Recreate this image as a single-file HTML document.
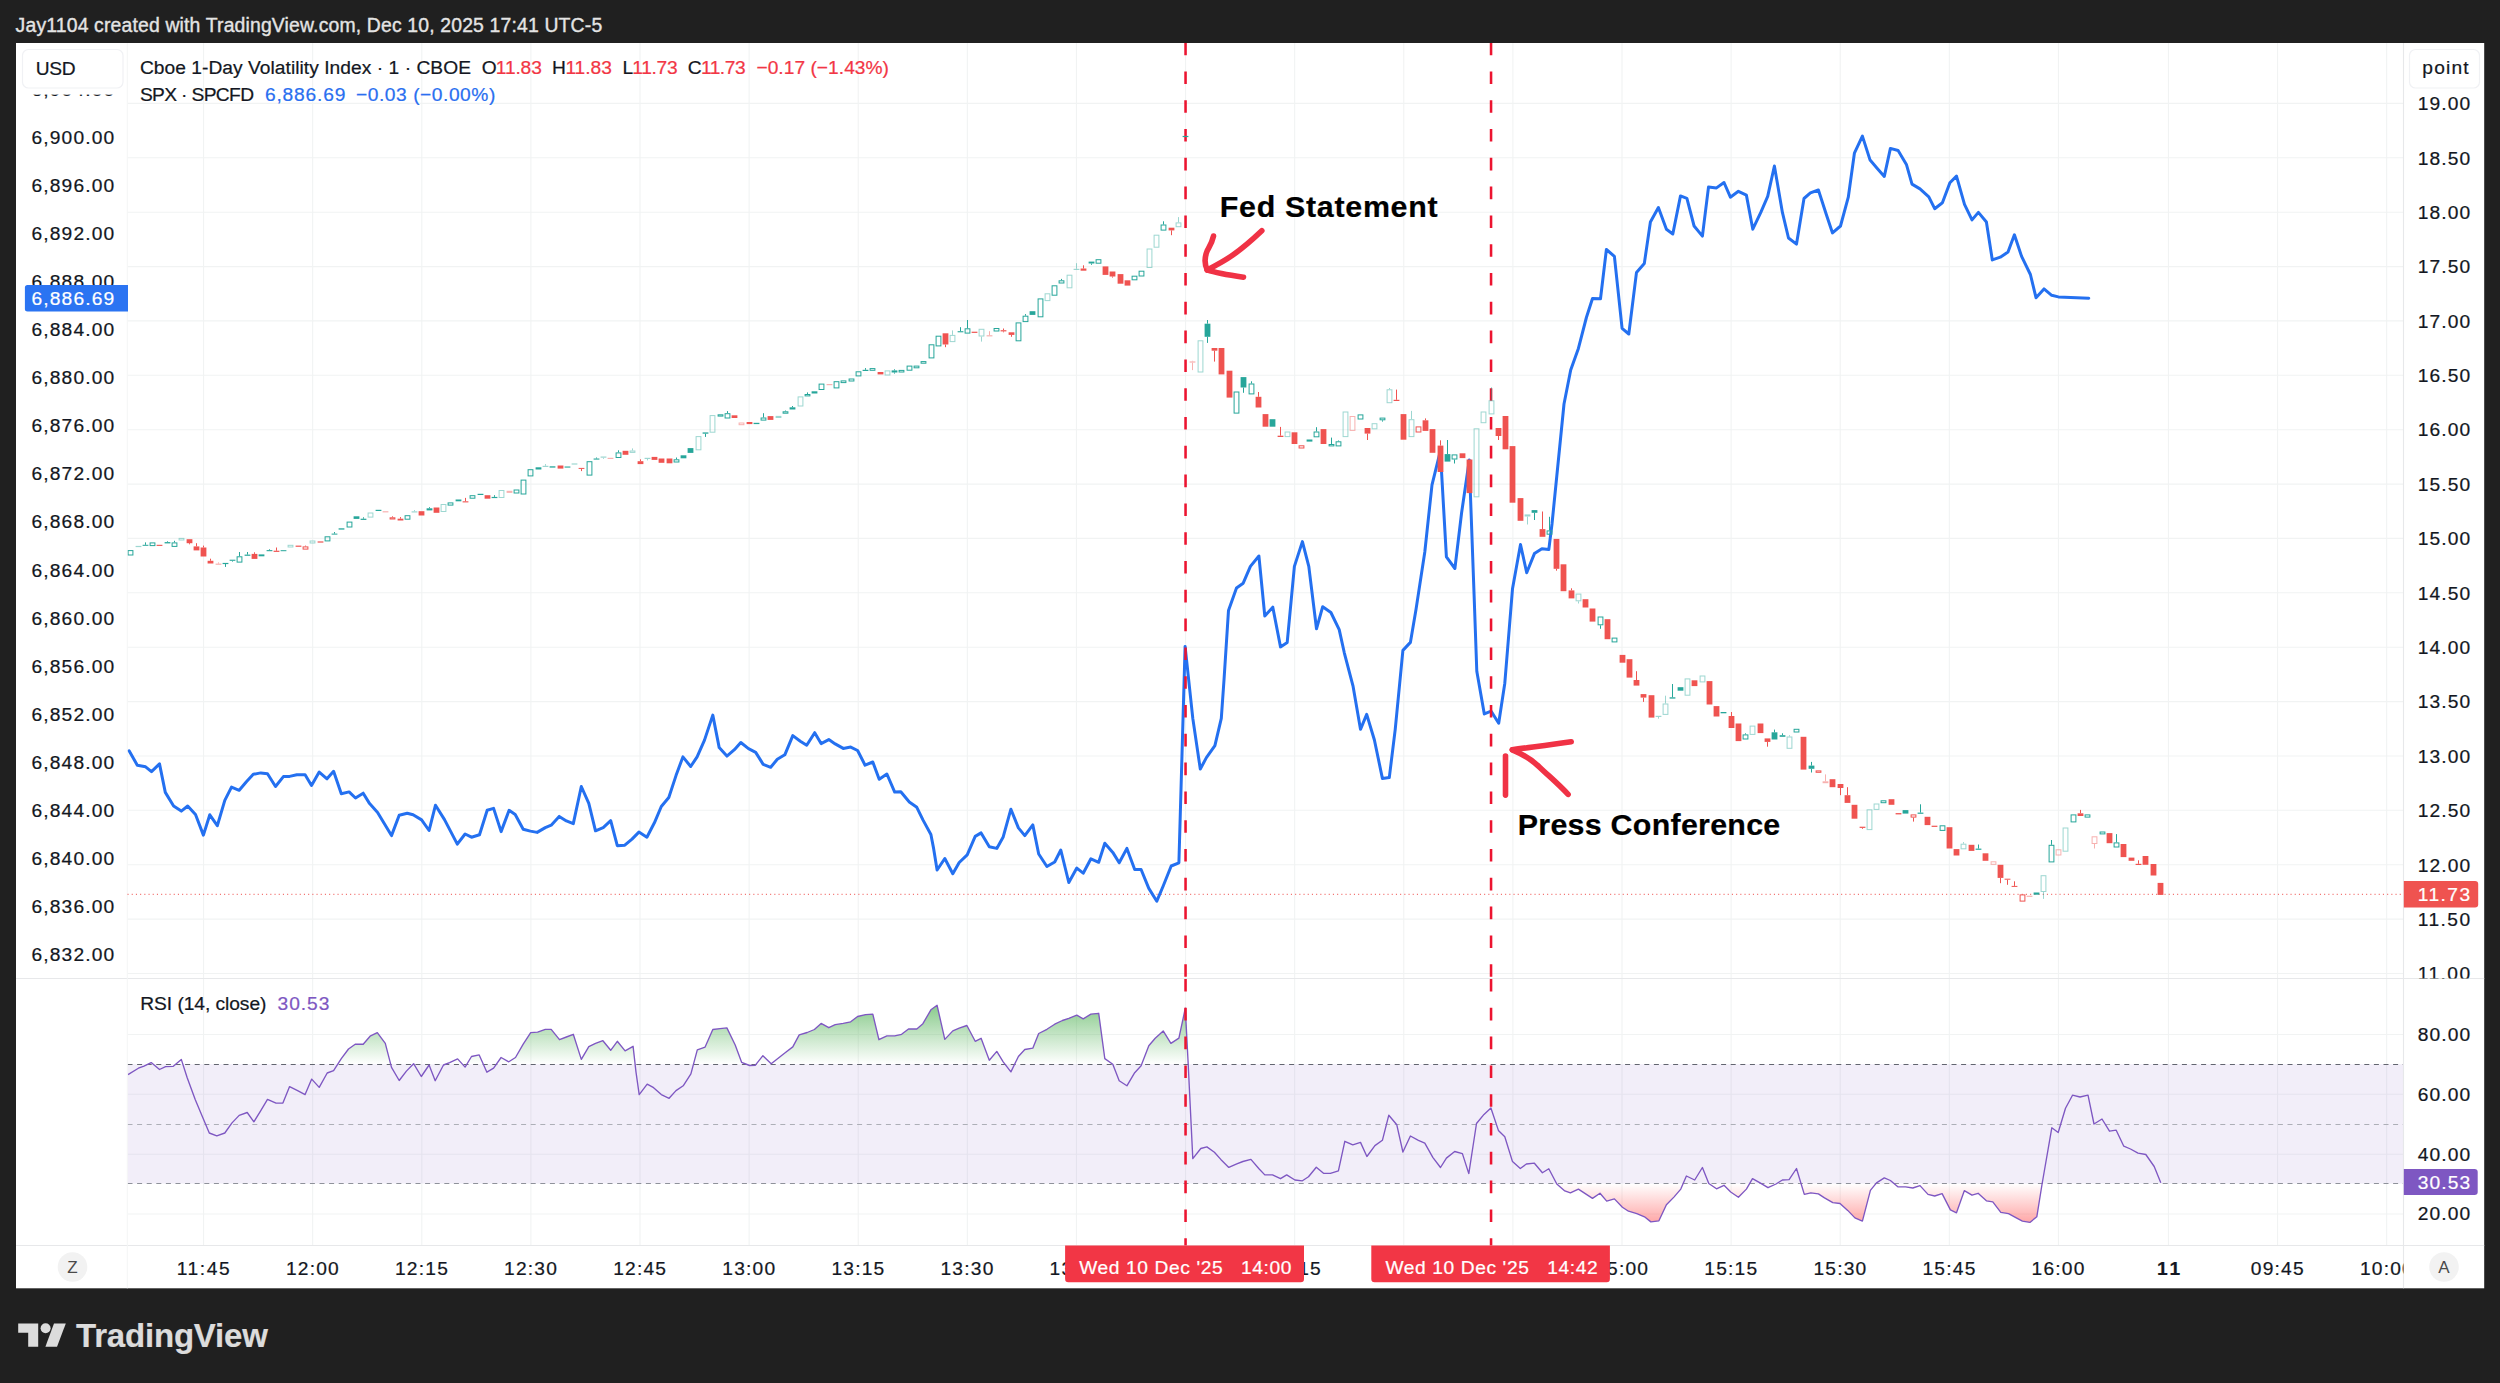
<!DOCTYPE html>
<html lang="en"><head><meta charset="utf-8"><title>TradingView chart snapshot</title>
<style>html,body{margin:0;padding:0;background:#202020;}body{width:2500px;height:1383px;position:relative;overflow:hidden;font-family:"Liberation Sans",Arial,sans-serif;}</style>
</head><body>
<svg width="2500" height="1383" viewBox="0 0 2500 1383" style="position:absolute;left:0;top:0;display:block" font-family="Liberation Sans, Arial, sans-serif">
<defs>
<linearGradient id="gG" gradientUnits="userSpaceOnUse" x1="0" y1="974.6" x2="0" y2="1064.2"><stop offset="0" stop-color="#4CAF50" stop-opacity="1"/><stop offset="1" stop-color="#4CAF50" stop-opacity="0"/></linearGradient>
<linearGradient id="gR" gradientUnits="userSpaceOnUse" x1="0" y1="1183.6" x2="0" y2="1260"><stop offset="0" stop-color="#FF5252" stop-opacity="0"/><stop offset="1" stop-color="#FF5252" stop-opacity="1"/></linearGradient>
<clipPath id="cpTop"><rect x="127.5" y="900" width="2276.0" height="164.2"/></clipPath>
<clipPath id="cpBot"><rect x="127.5" y="1183.6" width="2276.0" height="80"/></clipPath>
<clipPath id="cpPlot"><rect x="127.5" y="43" width="2276.0" height="935.5"/></clipPath>
<clipPath id="cpTime"><rect x="127.5" y="1245.5" width="2276.0" height="42.799999999999955"/></clipPath>
<clipPath id="cpRAx"><rect x="2403.5" y="43" width="80.69999999999982" height="935.5"/></clipPath>
</defs>
<rect x="16" y="43" width="2468.2" height="1245.3" fill="#ffffff"/>
<path d="M203.57 43V1245.5M312.68 43V1245.5M421.79 43V1245.5M530.90 43V1245.5M640.01 43V1245.5M749.12 43V1245.5M858.23 43V1245.5M967.34 43V1245.5M1076.45 43V1245.5M1185.56 43V1245.5M1294.67 43V1245.5M1403.78 43V1245.5M1512.89 43V1245.5M1622.00 43V1245.5M1731.11 43V1245.5M1840.22 43V1245.5M1949.33 43V1245.5M2058.44 43V1245.5M2168.45 43V1245.5M2277.56 43V1245.5M2386.67 43V1245.5M127.5 103.4H2403.5M127.5 157.8H2403.5M127.5 212.2H2403.5M127.5 266.6H2403.5M127.5 320.9H2403.5M127.5 375.3H2403.5M127.5 429.7H2403.5M127.5 484.1H2403.5M127.5 538.4H2403.5M127.5 592.8H2403.5M127.5 647.2H2403.5M127.5 701.6H2403.5M127.5 756.0H2403.5M127.5 810.3H2403.5M127.5 864.7H2403.5M127.5 919.1H2403.5M127.5 973.5H2403.5M127.5 1034.5H2403.5M127.5 1094.3H2403.5M127.5 1154.2H2403.5M127.5 1214H2403.5" stroke="#f1f3f3" stroke-width="1.1" fill="none"/>
<rect x="127.5" y="1064.2" width="2276.0" height="119.4" fill="#7E57C2" fill-opacity="0.1"/>
<polygon points="128.0,1064.2 128.0,1074.6 138.4,1068.2 144.0,1066.1 151.2,1062.6 159.5,1069.5 165.6,1066.6 173.3,1066.3 181.3,1059.4 187.2,1077.8 195.2,1099.4 201.9,1115.4 209.3,1133.0 216.8,1135.9 224.8,1133.0 232.0,1122.9 239.2,1115.4 247.2,1112.5 253.9,1121.8 260.8,1110.6 267.5,1099.4 276.0,1103.1 282.9,1103.1 289.6,1086.6 297.6,1090.6 305.1,1094.6 311.7,1079.1 319.2,1087.4 327.2,1073.0 333.6,1070.6 341.3,1058.6 348.5,1049.0 355.2,1044.2 363.2,1044.2 370.1,1036.2 377.3,1032.7 385.3,1043.4 391.5,1067.4 399.2,1080.5 406.4,1071.1 413.6,1063.7 421.3,1076.5 429.1,1065.0 435.2,1080.7 443.5,1065.0 449.6,1062.6 457.6,1058.9 465.1,1067.1 471.5,1056.5 479.2,1054.9 486.9,1072.2 493.6,1068.2 501.1,1057.5 508.8,1061.8 515.5,1057.5 523.2,1044.2 530.7,1032.7 537.6,1032.2 545.3,1029.3 551.2,1029.3 559.5,1039.7 566.4,1037.0 573.3,1034.3 581.3,1059.4 588.8,1046.6 595.5,1043.4 602.9,1040.7 610.7,1050.3 617.3,1041.3 625.1,1050.9 633.1,1046.3 636.0,1072.2 639.2,1094.6 647.2,1084.2 653.6,1087.7 661.3,1094.6 669.1,1098.3 676.0,1090.6 683.2,1085.8 690.9,1073.8 697.3,1049.8 705.1,1047.1 712.8,1029.5 720.0,1028.7 726.9,1027.9 735.2,1045.0 741.6,1062.3 749.6,1065.5 755.2,1065.3 762.9,1055.7 771.2,1063.7 784.8,1053.0 792.8,1046.9 799.2,1034.9 807.2,1032.5 814.4,1029.5 821.1,1023.4 828.8,1027.7 835.2,1024.7 843.2,1023.4 850.7,1021.8 857.6,1016.5 865.6,1014.6 872.8,1014.1 878.9,1039.7 886.9,1035.9 894.7,1035.9 901.6,1034.3 908.5,1029.0 916.8,1029.0 922.9,1023.7 930.9,1009.8 937.1,1005.3 944.8,1039.4 952.8,1030.9 959.2,1028.2 966.9,1025.5 975.2,1041.3 981.1,1038.3 989.3,1060.2 996.8,1051.4 1003.2,1061.8 1010.9,1071.9 1018.4,1056.5 1024.8,1049.5 1032.8,1048.2 1038.7,1033.5 1046.9,1029.3 1054.7,1024.2 1062.4,1020.5 1068.8,1018.3 1076.8,1015.1 1083.2,1018.9 1090.9,1014.1 1098.7,1013.3 1104.8,1058.6 1112.8,1064.2 1119.2,1080.7 1126.9,1085.8 1134.7,1072.7 1141.1,1065.8 1148.8,1045.8 1155.2,1038.3 1163.2,1030.9 1170.9,1043.4 1178.9,1038.1 1185.3,1008.2 1188.0,1060.2 1192.8,1158.6 1200.8,1148.5 1206.9,1146.9 1214.4,1152.2 1220.8,1159.4 1228.8,1167.4 1236.8,1163.9 1242.9,1161.5 1250.9,1159.4 1259.2,1169.0 1264.8,1174.9 1272.5,1174.9 1280.5,1178.7 1286.7,1174.9 1294.9,1180.0 1302.4,1180.8 1308.5,1176.8 1316.3,1167.2 1323.5,1173.3 1330.4,1173.3 1338.4,1170.9 1344.8,1141.3 1352.8,1144.8 1360.5,1142.4 1366.9,1156.5 1374.9,1145.6 1382.4,1140.3 1388.8,1115.2 1396.8,1124.8 1402.9,1152.0 1410.4,1136.0 1418.4,1140.3 1424.8,1143.2 1432.8,1157.3 1440.5,1167.5 1446.4,1158.1 1454.7,1151.5 1462.4,1153.6 1468.8,1173.6 1476.5,1123.5 1484.0,1114.4 1490.9,1108.0 1498.4,1130.4 1504.8,1136.8 1512.5,1161.6 1520.3,1168.5 1526.4,1164.0 1534.4,1163.2 1542.4,1172.8 1548.8,1168.8 1556.8,1184.0 1564.8,1190.9 1570.4,1192.8 1578.4,1189.1 1586.4,1194.4 1592.5,1198.4 1600.0,1193.3 1606.7,1201.1 1614.4,1198.9 1622.4,1207.2 1628.5,1211.2 1636.8,1213.6 1644.5,1216.8 1650.9,1221.9 1658.9,1220.8 1666.4,1204.8 1673.9,1197.1 1680.8,1189.1 1686.4,1176.0 1694.7,1180.0 1702.4,1167.5 1708.8,1183.5 1716.5,1188.8 1724.0,1185.3 1730.7,1192.0 1738.4,1197.3 1746.4,1189.1 1752.5,1178.7 1760.5,1183.2 1768.0,1187.7 1776.0,1184.0 1782.4,1180.0 1789.1,1179.7 1796.5,1168.5 1804.3,1194.4 1810.9,1192.8 1818.4,1193.9 1824.5,1197.9 1832.8,1202.7 1840.0,1203.5 1847.7,1210.4 1854.9,1217.9 1862.4,1221.1 1870.4,1190.4 1876.5,1182.9 1884.3,1177.9 1890.4,1180.5 1898.1,1186.9 1905.6,1186.9 1912.8,1188.0 1920.0,1185.6 1928.0,1194.4 1934.7,1196.0 1942.1,1193.6 1950.4,1209.9 1956.5,1212.8 1964.3,1190.7 1972.0,1195.2 1978.1,1193.3 1986.4,1200.8 1992.8,1201.9 2000.8,1212.3 2008.5,1213.6 2014.9,1217.1 2022.4,1221.1 2029.9,1222.4 2036.8,1216.8 2042.0,1184.5 2051.8,1127.8 2058.2,1132.5 2065.5,1108.2 2072.5,1095.2 2080.0,1097.0 2088.0,1095.2 2094.0,1124.0 2102.0,1119.0 2109.5,1131.2 2116.2,1130.2 2123.8,1146.2 2130.5,1149.0 2138.0,1153.2 2145.8,1154.5 2154.2,1166.5 2160.8,1182.8 2160.8,1064.2" fill="url(#gG)" clip-path="url(#cpTop)"/>
<polygon points="128.0,1183.6 128.0,1074.6 138.4,1068.2 144.0,1066.1 151.2,1062.6 159.5,1069.5 165.6,1066.6 173.3,1066.3 181.3,1059.4 187.2,1077.8 195.2,1099.4 201.9,1115.4 209.3,1133.0 216.8,1135.9 224.8,1133.0 232.0,1122.9 239.2,1115.4 247.2,1112.5 253.9,1121.8 260.8,1110.6 267.5,1099.4 276.0,1103.1 282.9,1103.1 289.6,1086.6 297.6,1090.6 305.1,1094.6 311.7,1079.1 319.2,1087.4 327.2,1073.0 333.6,1070.6 341.3,1058.6 348.5,1049.0 355.2,1044.2 363.2,1044.2 370.1,1036.2 377.3,1032.7 385.3,1043.4 391.5,1067.4 399.2,1080.5 406.4,1071.1 413.6,1063.7 421.3,1076.5 429.1,1065.0 435.2,1080.7 443.5,1065.0 449.6,1062.6 457.6,1058.9 465.1,1067.1 471.5,1056.5 479.2,1054.9 486.9,1072.2 493.6,1068.2 501.1,1057.5 508.8,1061.8 515.5,1057.5 523.2,1044.2 530.7,1032.7 537.6,1032.2 545.3,1029.3 551.2,1029.3 559.5,1039.7 566.4,1037.0 573.3,1034.3 581.3,1059.4 588.8,1046.6 595.5,1043.4 602.9,1040.7 610.7,1050.3 617.3,1041.3 625.1,1050.9 633.1,1046.3 636.0,1072.2 639.2,1094.6 647.2,1084.2 653.6,1087.7 661.3,1094.6 669.1,1098.3 676.0,1090.6 683.2,1085.8 690.9,1073.8 697.3,1049.8 705.1,1047.1 712.8,1029.5 720.0,1028.7 726.9,1027.9 735.2,1045.0 741.6,1062.3 749.6,1065.5 755.2,1065.3 762.9,1055.7 771.2,1063.7 784.8,1053.0 792.8,1046.9 799.2,1034.9 807.2,1032.5 814.4,1029.5 821.1,1023.4 828.8,1027.7 835.2,1024.7 843.2,1023.4 850.7,1021.8 857.6,1016.5 865.6,1014.6 872.8,1014.1 878.9,1039.7 886.9,1035.9 894.7,1035.9 901.6,1034.3 908.5,1029.0 916.8,1029.0 922.9,1023.7 930.9,1009.8 937.1,1005.3 944.8,1039.4 952.8,1030.9 959.2,1028.2 966.9,1025.5 975.2,1041.3 981.1,1038.3 989.3,1060.2 996.8,1051.4 1003.2,1061.8 1010.9,1071.9 1018.4,1056.5 1024.8,1049.5 1032.8,1048.2 1038.7,1033.5 1046.9,1029.3 1054.7,1024.2 1062.4,1020.5 1068.8,1018.3 1076.8,1015.1 1083.2,1018.9 1090.9,1014.1 1098.7,1013.3 1104.8,1058.6 1112.8,1064.2 1119.2,1080.7 1126.9,1085.8 1134.7,1072.7 1141.1,1065.8 1148.8,1045.8 1155.2,1038.3 1163.2,1030.9 1170.9,1043.4 1178.9,1038.1 1185.3,1008.2 1188.0,1060.2 1192.8,1158.6 1200.8,1148.5 1206.9,1146.9 1214.4,1152.2 1220.8,1159.4 1228.8,1167.4 1236.8,1163.9 1242.9,1161.5 1250.9,1159.4 1259.2,1169.0 1264.8,1174.9 1272.5,1174.9 1280.5,1178.7 1286.7,1174.9 1294.9,1180.0 1302.4,1180.8 1308.5,1176.8 1316.3,1167.2 1323.5,1173.3 1330.4,1173.3 1338.4,1170.9 1344.8,1141.3 1352.8,1144.8 1360.5,1142.4 1366.9,1156.5 1374.9,1145.6 1382.4,1140.3 1388.8,1115.2 1396.8,1124.8 1402.9,1152.0 1410.4,1136.0 1418.4,1140.3 1424.8,1143.2 1432.8,1157.3 1440.5,1167.5 1446.4,1158.1 1454.7,1151.5 1462.4,1153.6 1468.8,1173.6 1476.5,1123.5 1484.0,1114.4 1490.9,1108.0 1498.4,1130.4 1504.8,1136.8 1512.5,1161.6 1520.3,1168.5 1526.4,1164.0 1534.4,1163.2 1542.4,1172.8 1548.8,1168.8 1556.8,1184.0 1564.8,1190.9 1570.4,1192.8 1578.4,1189.1 1586.4,1194.4 1592.5,1198.4 1600.0,1193.3 1606.7,1201.1 1614.4,1198.9 1622.4,1207.2 1628.5,1211.2 1636.8,1213.6 1644.5,1216.8 1650.9,1221.9 1658.9,1220.8 1666.4,1204.8 1673.9,1197.1 1680.8,1189.1 1686.4,1176.0 1694.7,1180.0 1702.4,1167.5 1708.8,1183.5 1716.5,1188.8 1724.0,1185.3 1730.7,1192.0 1738.4,1197.3 1746.4,1189.1 1752.5,1178.7 1760.5,1183.2 1768.0,1187.7 1776.0,1184.0 1782.4,1180.0 1789.1,1179.7 1796.5,1168.5 1804.3,1194.4 1810.9,1192.8 1818.4,1193.9 1824.5,1197.9 1832.8,1202.7 1840.0,1203.5 1847.7,1210.4 1854.9,1217.9 1862.4,1221.1 1870.4,1190.4 1876.5,1182.9 1884.3,1177.9 1890.4,1180.5 1898.1,1186.9 1905.6,1186.9 1912.8,1188.0 1920.0,1185.6 1928.0,1194.4 1934.7,1196.0 1942.1,1193.6 1950.4,1209.9 1956.5,1212.8 1964.3,1190.7 1972.0,1195.2 1978.1,1193.3 1986.4,1200.8 1992.8,1201.9 2000.8,1212.3 2008.5,1213.6 2014.9,1217.1 2022.4,1221.1 2029.9,1222.4 2036.8,1216.8 2042.0,1184.5 2051.8,1127.8 2058.2,1132.5 2065.5,1108.2 2072.5,1095.2 2080.0,1097.0 2088.0,1095.2 2094.0,1124.0 2102.0,1119.0 2109.5,1131.2 2116.2,1130.2 2123.8,1146.2 2130.5,1149.0 2138.0,1153.2 2145.8,1154.5 2154.2,1166.5 2160.8,1182.8 2160.8,1183.6" fill="url(#gR)" clip-path="url(#cpBot)"/>
<path d="M127.5 1064.5H2403.5" stroke="#62656f" stroke-width="1.05" stroke-dasharray="5 4.6" fill="none"/>
<path d="M127.5 1124.5H2403.5" stroke="#adafb7" stroke-width="1.0" stroke-dasharray="5 4.6" fill="none"/>
<path d="M127.5 1183.5H2403.5" stroke="#8f929b" stroke-width="1.05" stroke-dasharray="5 4.6" fill="none"/>
<polyline points="128.0,1074.6 138.4,1068.2 144.0,1066.1 151.2,1062.6 159.5,1069.5 165.6,1066.6 173.3,1066.3 181.3,1059.4 187.2,1077.8 195.2,1099.4 201.9,1115.4 209.3,1133.0 216.8,1135.9 224.8,1133.0 232.0,1122.9 239.2,1115.4 247.2,1112.5 253.9,1121.8 260.8,1110.6 267.5,1099.4 276.0,1103.1 282.9,1103.1 289.6,1086.6 297.6,1090.6 305.1,1094.6 311.7,1079.1 319.2,1087.4 327.2,1073.0 333.6,1070.6 341.3,1058.6 348.5,1049.0 355.2,1044.2 363.2,1044.2 370.1,1036.2 377.3,1032.7 385.3,1043.4 391.5,1067.4 399.2,1080.5 406.4,1071.1 413.6,1063.7 421.3,1076.5 429.1,1065.0 435.2,1080.7 443.5,1065.0 449.6,1062.6 457.6,1058.9 465.1,1067.1 471.5,1056.5 479.2,1054.9 486.9,1072.2 493.6,1068.2 501.1,1057.5 508.8,1061.8 515.5,1057.5 523.2,1044.2 530.7,1032.7 537.6,1032.2 545.3,1029.3 551.2,1029.3 559.5,1039.7 566.4,1037.0 573.3,1034.3 581.3,1059.4 588.8,1046.6 595.5,1043.4 602.9,1040.7 610.7,1050.3 617.3,1041.3 625.1,1050.9 633.1,1046.3 636.0,1072.2 639.2,1094.6 647.2,1084.2 653.6,1087.7 661.3,1094.6 669.1,1098.3 676.0,1090.6 683.2,1085.8 690.9,1073.8 697.3,1049.8 705.1,1047.1 712.8,1029.5 720.0,1028.7 726.9,1027.9 735.2,1045.0 741.6,1062.3 749.6,1065.5 755.2,1065.3 762.9,1055.7 771.2,1063.7 784.8,1053.0 792.8,1046.9 799.2,1034.9 807.2,1032.5 814.4,1029.5 821.1,1023.4 828.8,1027.7 835.2,1024.7 843.2,1023.4 850.7,1021.8 857.6,1016.5 865.6,1014.6 872.8,1014.1 878.9,1039.7 886.9,1035.9 894.7,1035.9 901.6,1034.3 908.5,1029.0 916.8,1029.0 922.9,1023.7 930.9,1009.8 937.1,1005.3 944.8,1039.4 952.8,1030.9 959.2,1028.2 966.9,1025.5 975.2,1041.3 981.1,1038.3 989.3,1060.2 996.8,1051.4 1003.2,1061.8 1010.9,1071.9 1018.4,1056.5 1024.8,1049.5 1032.8,1048.2 1038.7,1033.5 1046.9,1029.3 1054.7,1024.2 1062.4,1020.5 1068.8,1018.3 1076.8,1015.1 1083.2,1018.9 1090.9,1014.1 1098.7,1013.3 1104.8,1058.6 1112.8,1064.2 1119.2,1080.7 1126.9,1085.8 1134.7,1072.7 1141.1,1065.8 1148.8,1045.8 1155.2,1038.3 1163.2,1030.9 1170.9,1043.4 1178.9,1038.1 1185.3,1008.2 1188.0,1060.2 1192.8,1158.6 1200.8,1148.5 1206.9,1146.9 1214.4,1152.2 1220.8,1159.4 1228.8,1167.4 1236.8,1163.9 1242.9,1161.5 1250.9,1159.4 1259.2,1169.0 1264.8,1174.9 1272.5,1174.9 1280.5,1178.7 1286.7,1174.9 1294.9,1180.0 1302.4,1180.8 1308.5,1176.8 1316.3,1167.2 1323.5,1173.3 1330.4,1173.3 1338.4,1170.9 1344.8,1141.3 1352.8,1144.8 1360.5,1142.4 1366.9,1156.5 1374.9,1145.6 1382.4,1140.3 1388.8,1115.2 1396.8,1124.8 1402.9,1152.0 1410.4,1136.0 1418.4,1140.3 1424.8,1143.2 1432.8,1157.3 1440.5,1167.5 1446.4,1158.1 1454.7,1151.5 1462.4,1153.6 1468.8,1173.6 1476.5,1123.5 1484.0,1114.4 1490.9,1108.0 1498.4,1130.4 1504.8,1136.8 1512.5,1161.6 1520.3,1168.5 1526.4,1164.0 1534.4,1163.2 1542.4,1172.8 1548.8,1168.8 1556.8,1184.0 1564.8,1190.9 1570.4,1192.8 1578.4,1189.1 1586.4,1194.4 1592.5,1198.4 1600.0,1193.3 1606.7,1201.1 1614.4,1198.9 1622.4,1207.2 1628.5,1211.2 1636.8,1213.6 1644.5,1216.8 1650.9,1221.9 1658.9,1220.8 1666.4,1204.8 1673.9,1197.1 1680.8,1189.1 1686.4,1176.0 1694.7,1180.0 1702.4,1167.5 1708.8,1183.5 1716.5,1188.8 1724.0,1185.3 1730.7,1192.0 1738.4,1197.3 1746.4,1189.1 1752.5,1178.7 1760.5,1183.2 1768.0,1187.7 1776.0,1184.0 1782.4,1180.0 1789.1,1179.7 1796.5,1168.5 1804.3,1194.4 1810.9,1192.8 1818.4,1193.9 1824.5,1197.9 1832.8,1202.7 1840.0,1203.5 1847.7,1210.4 1854.9,1217.9 1862.4,1221.1 1870.4,1190.4 1876.5,1182.9 1884.3,1177.9 1890.4,1180.5 1898.1,1186.9 1905.6,1186.9 1912.8,1188.0 1920.0,1185.6 1928.0,1194.4 1934.7,1196.0 1942.1,1193.6 1950.4,1209.9 1956.5,1212.8 1964.3,1190.7 1972.0,1195.2 1978.1,1193.3 1986.4,1200.8 1992.8,1201.9 2000.8,1212.3 2008.5,1213.6 2014.9,1217.1 2022.4,1221.1 2029.9,1222.4 2036.8,1216.8 2042.0,1184.5 2051.8,1127.8 2058.2,1132.5 2065.5,1108.2 2072.5,1095.2 2080.0,1097.0 2088.0,1095.2 2094.0,1124.0 2102.0,1119.0 2109.5,1131.2 2116.2,1130.2 2123.8,1146.2 2130.5,1149.0 2138.0,1153.2 2145.8,1154.5 2154.2,1166.5 2160.8,1182.8" fill="none" stroke="#7E57C2" stroke-width="1.35" stroke-linejoin="round"/>
<path d="M16 978.5H2484.2M16 1245.5H2484.2M2403.5 43V1288.3" stroke="#e7e8ea" stroke-width="1.1" fill="none"/>
<path d="M127.3 43V1288.3" stroke="#f4f5f6" stroke-width="1" fill="none"/>
<path d="M127.5 894.3H2403.5" stroke="#EF5350" stroke-width="1" stroke-dasharray="1.1 3.1" fill="none"/>
<polyline points="129.1,750.8 137.3,765.2 145.6,766.8 151.5,771.6 159.5,763.9 165.3,792.4 173.6,806.0 181.3,811.1 187.7,806.0 195.5,814.5 203.4,835.1 209.8,814.8 217.3,825.7 224.8,800.4 231.5,787.1 239.2,790.3 246.4,781.7 253.3,774.3 260.8,772.9 267.5,773.8 275.5,786.5 283.4,776.6 289.6,776.4 296.8,774.8 305.1,774.8 311.5,785.5 319.2,772.1 327.0,778.8 333.6,771.3 341.3,793.7 349.1,791.9 355.5,798.0 363.2,793.2 369.6,803.6 377.6,812.4 391.5,835.6 399.2,815.3 407.2,813.2 413.1,814.8 421.6,819.9 429.1,830.5 435.5,805.2 444.5,819.6 457.3,844.1 465.1,834.0 471.5,837.2 479.5,834.8 487.2,810.3 493.6,808.4 501.1,831.6 509.1,810.3 515.2,814.5 523.2,829.2 530.4,831.1 537.1,832.4 545.3,827.6 551.2,825.2 559.2,816.4 566.4,820.9 573.3,823.6 581.3,786.5 588.8,803.3 595.5,830.8 603.2,827.6 610.7,820.7 617.3,845.7 624.8,845.2 632.0,839.1 638.9,832.1 646.9,837.2 654.4,822.8 661.3,806.5 668.8,797.5 676.0,775.6 682.9,756.9 690.7,766.5 697.1,756.9 704.5,740.1 712.8,715.1 719.2,747.6 726.9,756.1 734.4,749.7 740.8,742.5 748.5,748.7 755.7,752.4 763.2,764.4 770.7,767.3 777.3,759.3 784.8,754.8 792.8,735.6 800.3,741.2 806.7,745.2 814.7,732.7 821.1,743.6 828.8,739.6 835.2,743.9 843.2,748.4 850.7,747.1 857.6,750.5 865.1,765.2 872.8,762.0 879.2,779.3 886.9,774.0 894.7,792.1 900.8,791.8 909.3,802.0 916.8,807.3 923.2,820.4 930.9,834.5 933.6,848.4 937.1,870.0 944.8,858.5 952.8,873.7 959.2,862.5 967.2,854.8 975.2,836.4 981.1,832.9 989.3,846.8 996.8,848.4 1003.2,836.9 1010.9,809.2 1018.4,827.9 1024.8,835.6 1032.8,824.9 1038.7,854.0 1046.9,866.5 1054.7,862.0 1060.8,850.0 1068.8,882.5 1076.8,868.1 1083.2,873.2 1090.9,858.8 1098.7,862.3 1104.8,843.3 1112.8,852.4 1119.2,862.8 1126.9,848.4 1134.7,869.5 1141.1,869.5 1148.8,888.4 1156.8,901.2 1163.2,886.0 1171.2,866.0 1178.9,862.8 1185.1,646.4 1192.8,718.4 1200.3,769.1 1206.4,757.6 1214.9,745.6 1221.3,718.4 1224.0,680.0 1228.5,610.4 1236.5,588.0 1243.2,583.2 1250.4,566.4 1258.9,556.0 1264.8,616.0 1272.8,607.2 1280.5,646.9 1287.2,642.4 1294.4,566.4 1302.4,541.6 1308.8,566.4 1316.5,628.8 1322.7,606.7 1330.9,612.5 1339.2,629.6 1344.3,652.8 1353.1,686.4 1360.5,729.3 1366.7,714.4 1374.4,740.0 1382.4,778.4 1389.3,777.6 1395.2,729.6 1402.9,650.4 1410.4,642.4 1416.0,609.6 1424.8,552.0 1432.0,484.8 1440.5,450.4 1441.6,472.8 1446.4,556.8 1454.9,568.5 1461.6,512.8 1469.3,460.0 1470.4,493.6 1474.1,595.2 1476.8,671.2 1484.3,713.9 1491.2,711.2 1498.7,723.2 1504.8,683.2 1512.5,588.8 1520.5,544.5 1526.7,572.8 1534.4,553.6 1541.9,548.8 1548.8,549.6 1552.0,524.0 1556.8,476.0 1564.0,404.0 1570.7,370.0 1578.4,348.4 1586.4,317.5 1592.5,298.5 1600.5,298.8 1606.4,249.5 1614.4,256.4 1622.1,328.4 1628.8,334.0 1636.5,272.4 1644.3,263.6 1650.4,222.0 1658.4,207.6 1666.4,229.2 1672.8,234.0 1680.5,195.9 1686.9,198.3 1694.1,226.0 1702.4,236.1 1708.5,187.1 1716.5,187.9 1724.0,182.5 1730.4,197.2 1738.4,191.3 1746.4,195.1 1752.8,229.2 1760.8,212.4 1767.7,196.4 1774.4,166.0 1782.4,212.4 1788.5,238.0 1796.5,244.1 1804.0,198.5 1810.4,192.9 1818.4,190.0 1826.4,214.8 1832.5,232.9 1840.5,226.0 1848.3,197.2 1854.4,153.2 1862.4,136.1 1870.1,160.1 1877.3,168.4 1884.3,176.4 1890.4,148.4 1898.1,150.5 1906.4,164.4 1912.0,184.1 1920.0,188.9 1928.8,196.9 1934.7,208.7 1942.4,202.8 1949.9,182.8 1956.5,176.1 1964.5,204.4 1972.0,219.9 1978.4,212.4 1986.4,222.0 1992.3,259.9 2000.3,257.2 2008.0,252.1 2014.4,234.8 2021.6,256.4 2030.4,274.5 2036.0,297.7 2044.0,288.9 2051.7,295.3 2058.4,296.9 2088.8,298.3" fill="none" stroke="#2470F0" stroke-width="3" stroke-linejoin="round" stroke-linecap="round" clip-path="url(#cpPlot)"/>
<path d="M1185.55 42.6V978.5" stroke="#EC1430" stroke-width="2.55" stroke-dasharray="12.6 16.2" fill="none" clip-path="url(#cpPlot)"/>
<path d="M1185.55 979V1245.5" stroke="#EC1430" stroke-width="2.55" stroke-dasharray="12.6 16.2" fill="none"/>
<path d="M1491.05 42.6V978.5" stroke="#EC1430" stroke-width="2.55" stroke-dasharray="12.6 16.2" fill="none" clip-path="url(#cpPlot)"/>
<path d="M1491.05 979V1245.5" stroke="#EC1430" stroke-width="2.55" stroke-dasharray="12.6 16.2" fill="none"/>
<g clip-path="url(#cpPlot)">
<g><rect x="128.1" y="550.6" width="4.8" height="4.4" fill="none" stroke="#26A69A" stroke-width="1"/></g>
<g opacity="0.45"><rect x="135.6" y="545.9" width="5.8" height="1.2" fill="#26A69A"/></g>
<g><path d="M145.5 542.4V544.8" stroke="#26A69A" stroke-width="1" fill="none"/><rect x="142.6" y="544.8" width="5.8" height="1.0" fill="#26A69A"/></g>
<g><rect x="150.1" y="542.9" width="4.8" height="2.7" fill="none" stroke="#26A69A" stroke-width="1"/></g>
<g><rect x="156.6" y="544.8" width="5.8" height="1.1" fill="#EF5350"/></g>
<g><path d="M167.5 541.3V542.1" stroke="#26A69A" stroke-width="1" fill="none"/><rect x="164.6" y="542.1" width="5.8" height="1.3" fill="#26A69A"/></g>
<g><path d="M174.5 540.8V542.4" stroke="#26A69A" stroke-width="1" fill="none"/><rect x="172.1" y="542.9" width="4.8" height="3.5" fill="none" stroke="#26A69A" stroke-width="1"/></g>
<g opacity="0.45"><rect x="179.1" y="538.4" width="4.8" height="1.6" fill="none" stroke="#26A69A" stroke-width="1"/></g>
<g><path d="M189.5 543.2V544.3" stroke="#EF5350" stroke-width="1" fill="none"/><rect x="186.6" y="539.2" width="5.8" height="4.0" fill="#EF5350"/></g>
<g><path d="M196.5 543.2V546.4" stroke="#EF5350" stroke-width="1" fill="none"/><rect x="193.6" y="546.4" width="5.8" height="4.0" fill="#EF5350"/></g>
<g><path d="M203.5 545.6V547.5" stroke="#EF5350" stroke-width="1" fill="none"/><rect x="200.6" y="547.5" width="5.8" height="9.0" fill="#EF5350"/></g>
<g><path d="M210.5 558.7V560.8" stroke="#EF5350" stroke-width="1" fill="none"/><rect x="207.6" y="560.8" width="5.8" height="2.7" fill="#EF5350"/></g>
<g opacity="0.45"><path d="M218.5 562.4V563.65" stroke="#EF5350" stroke-width="1" fill="none"/><rect x="215.6" y="563.6" width="5.8" height="1.2" fill="#EF5350"/></g>
<g><path d="M225.5 564.0500000000001V566.9" stroke="#26A69A" stroke-width="1" fill="none"/><rect x="222.6" y="562.9" width="5.8" height="1.2" fill="#26A69A"/></g>
<g><path d="M232.5 560.8V561.6" stroke="#26A69A" stroke-width="1" fill="none"/><rect x="229.6" y="559.7" width="5.8" height="1.1" fill="#26A69A"/></g>
<g><path d="M239.5 552.0V556.3" stroke="#26A69A" stroke-width="1" fill="none"/><rect x="237.1" y="556.8" width="4.8" height="5.3" fill="none" stroke="#26A69A" stroke-width="1"/></g>
<g><path d="M247.5 552.0V554.6" stroke="#26A69A" stroke-width="1" fill="none"/><rect x="244.6" y="554.6" width="5.8" height="1.2" fill="#26A69A"/></g>
<g><path d="M254.5 552.3V553.9" stroke="#EF5350" stroke-width="1" fill="none"/><rect x="251.6" y="553.9" width="5.8" height="5.0" fill="#EF5350"/></g>
<g><rect x="258.6" y="554.4" width="5.8" height="1.9" fill="#26A69A"/></g>
<g><path d="M269.5 549.3V550.1" stroke="#26A69A" stroke-width="1" fill="none"/><rect x="266.6" y="550.1" width="5.8" height="1.1" fill="#26A69A"/></g>
<g><path d="M276.5 547.5V550.7499999999999" stroke="#EF5350" stroke-width="1" fill="none"/><rect x="273.6" y="550.7" width="5.8" height="1.2" fill="#EF5350"/></g>
<g><rect x="280.6" y="550.2" width="5.8" height="1.0" fill="#26A69A"/></g>
<g opacity="0.45"><rect x="288.1" y="545.3" width="4.8" height="1.7" fill="none" stroke="#26A69A" stroke-width="1"/></g>
<g><rect x="295.6" y="545.6" width="5.8" height="1.2" fill="#EF5350"/></g>
<g><path d="M305.5 545.6V546.4" stroke="#EF5350" stroke-width="1" fill="none"/><rect x="303.1" y="546.9" width="4.8" height="2.2" fill="none" stroke="#EF5350" stroke-width="1"/></g>
<g opacity="0.45"><rect x="310.1" y="541.0" width="4.8" height="2.0" fill="none" stroke="#26A69A" stroke-width="1"/></g>
<g><rect x="317.6" y="541.4" width="5.8" height="1.2" fill="#EF5350"/></g>
<g><rect x="325.1" y="536.8" width="4.8" height="4.1" fill="none" stroke="#26A69A" stroke-width="1"/></g>
<g><path d="M334.5 532.0V533.6" stroke="#26A69A" stroke-width="1" fill="none"/><rect x="331.6" y="533.6" width="5.8" height="1.0" fill="#26A69A"/></g>
<g><rect x="338.6" y="528.3" width="5.8" height="1.3" fill="#26A69A"/></g>
<g><rect x="347.1" y="522.1" width="4.8" height="4.9" fill="none" stroke="#26A69A" stroke-width="1"/></g>
<g><rect x="353.6" y="516.3" width="5.8" height="2.6" fill="#26A69A"/></g>
<g><path d="M363.5 517.3V518.6999999999999" stroke="#26A69A" stroke-width="1" fill="none"/><rect x="360.6" y="518.7" width="5.8" height="1.2" fill="#26A69A"/></g>
<g opacity="0.45"><rect x="368.1" y="513.0" width="4.8" height="4.1" fill="none" stroke="#26A69A" stroke-width="1"/></g>
<g><rect x="375.6" y="509.8" width="5.8" height="1.2" fill="#26A69A"/></g>
<g opacity="0.45"><rect x="382.6" y="511.2" width="5.8" height="1.2" fill="#EF5350"/></g>
<g><path d="M392.5 516.3V517.3" stroke="#EF5350" stroke-width="1" fill="none"/><rect x="390.1" y="517.8" width="4.8" height="1.2" fill="none" stroke="#EF5350" stroke-width="1"/></g>
<g><path d="M400.5 517.1V518.7" stroke="#EF5350" stroke-width="1" fill="none"/><rect x="397.6" y="518.7" width="5.8" height="1.8" fill="#EF5350"/></g>
<g><rect x="405.1" y="515.7" width="4.8" height="3.5" fill="none" stroke="#26A69A" stroke-width="1"/></g>
<g opacity="0.45"><path d="M414.5 510.1V511.29999999999995" stroke="#26A69A" stroke-width="1" fill="none"/><rect x="411.6" y="511.3" width="5.8" height="1.2" fill="#26A69A"/></g>
<g><rect x="418.6" y="511.2" width="5.8" height="4.3" fill="#EF5350"/></g>
<g><path d="M429.5 507.2V508.3" stroke="#26A69A" stroke-width="1" fill="none"/><rect x="426.6" y="508.3" width="5.8" height="2.1" fill="#26A69A"/></g>
<g><rect x="433.6" y="507.5" width="5.8" height="5.3" fill="#EF5350"/></g>
<g opacity="0.45"><rect x="441.1" y="504.5" width="4.8" height="7.0" fill="none" stroke="#26A69A" stroke-width="1"/></g>
<g><rect x="448.1" y="502.9" width="4.8" height="2.2" fill="none" stroke="#26A69A" stroke-width="1"/></g>
<g><rect x="455.6" y="499.5" width="5.8" height="1.8" fill="#26A69A"/></g>
<g><path d="M465.5 497.9V501.3" stroke="#EF5350" stroke-width="1" fill="none"/><rect x="462.6" y="501.3" width="5.8" height="1.1" fill="#EF5350"/></g>
<g><rect x="470.1" y="495.7" width="4.8" height="2.5" fill="none" stroke="#26A69A" stroke-width="1"/></g>
<g><rect x="477.6" y="493.8" width="5.8" height="1.2" fill="#26A69A"/></g>
<g><rect x="484.6" y="495.2" width="5.8" height="3.5" fill="#EF5350"/></g>
<g><path d="M494.5 495.2V496.85" stroke="#26A69A" stroke-width="1" fill="none"/><rect x="491.6" y="496.9" width="5.8" height="1.2" fill="#26A69A"/></g>
<g opacity="0.45"><rect x="499.1" y="490.5" width="4.8" height="7.0" fill="none" stroke="#26A69A" stroke-width="1"/></g>
<g opacity="0.45"><rect x="506.6" y="490.8" width="5.8" height="2.1" fill="#EF5350"/></g>
<g><rect x="514.1" y="490.0" width="4.8" height="3.0" fill="none" stroke="#26A69A" stroke-width="1"/></g>
<g><rect x="521.1" y="480.1" width="4.8" height="13.9" fill="none" stroke="#26A69A" stroke-width="1"/></g>
<g><rect x="528.1" y="469.7" width="4.8" height="6.2" fill="none" stroke="#26A69A" stroke-width="1"/></g>
<g><rect x="535.6" y="467.3" width="5.8" height="2.2" fill="#26A69A"/></g>
<g opacity="0.45"><path d="M545.5 464.1V465.79999999999995" stroke="#26A69A" stroke-width="1" fill="none"/><rect x="542.6" y="465.8" width="5.8" height="1.2" fill="#26A69A"/></g>
<g><rect x="549.6" y="466.3" width="5.8" height="1.3" fill="#26A69A"/></g>
<g><rect x="557.6" y="465.5" width="5.8" height="3.1" fill="#EF5350"/></g>
<g><rect x="564.6" y="466.5" width="5.8" height="1.1" fill="#26A69A"/></g>
<g opacity="0.45"><rect x="571.6" y="463.4" width="5.8" height="1.2" fill="#26A69A"/></g>
<g><path d="M581.5 468.9V471.1" stroke="#EF5350" stroke-width="1" fill="none"/><rect x="578.6" y="467.9" width="5.8" height="1.0" fill="#EF5350"/></g>
<g><rect x="587.1" y="461.7" width="4.8" height="13.4" fill="none" stroke="#26A69A" stroke-width="1"/></g>
<g><path d="M596.5 457.5V458.5" stroke="#26A69A" stroke-width="1" fill="none"/><rect x="593.6" y="458.5" width="5.8" height="1.1" fill="#26A69A"/></g>
<g opacity="0.45"><path d="M603.5 457.70000000000005V458.8" stroke="#26A69A" stroke-width="1" fill="none"/><rect x="600.6" y="456.5" width="5.8" height="1.2" fill="#26A69A"/></g>
<g opacity="0.45"><rect x="607.6" y="457.8" width="5.8" height="1.2" fill="#EF5350"/></g>
<g><path d="M618.5 450.3V452.4" stroke="#26A69A" stroke-width="1" fill="none"/><rect x="616.1" y="452.9" width="4.8" height="4.6" fill="none" stroke="#26A69A" stroke-width="1"/></g>
<g><rect x="622.6" y="450.8" width="5.8" height="4.0" fill="#EF5350"/></g>
<g opacity="0.45"><path d="M632.5 448.4V450.5" stroke="#26A69A" stroke-width="1" fill="none"/><rect x="630.1" y="451.0" width="4.8" height="1.4" fill="none" stroke="#26A69A" stroke-width="1"/></g>
<g><path d="M640.5 459.3V461.2" stroke="#EF5350" stroke-width="1" fill="none"/><rect x="637.6" y="461.2" width="5.8" height="2.9" fill="#EF5350"/></g>
<g opacity="0.45"><path d="M647.5 459.0V460.4" stroke="#26A69A" stroke-width="1" fill="none"/><rect x="644.6" y="457.8" width="5.8" height="1.2" fill="#26A69A"/></g>
<g><rect x="651.6" y="456.9" width="5.8" height="3.0" fill="#EF5350"/></g>
<g><rect x="658.6" y="458.5" width="5.8" height="4.3" fill="#EF5350"/></g>
<g><rect x="666.6" y="458.5" width="5.8" height="4.8" fill="#EF5350"/></g>
<g><path d="M676.5 457.5V459.3" stroke="#26A69A" stroke-width="1" fill="none"/><rect x="674.1" y="459.8" width="4.8" height="2.2" fill="none" stroke="#26A69A" stroke-width="1"/></g>
<g><rect x="680.6" y="455.3" width="5.8" height="3.0" fill="#26A69A"/></g>
<g><rect x="687.6" y="448.1" width="5.8" height="4.8" fill="#26A69A"/></g>
<g opacity="0.45"><rect x="696.1" y="436.6" width="4.8" height="13.2" fill="none" stroke="#26A69A" stroke-width="1"/></g>
<g><path d="M705.5 433.7V436.9" stroke="#26A69A" stroke-width="1" fill="none"/><rect x="702.6" y="432.4" width="5.8" height="1.3" fill="#26A69A"/></g>
<g opacity="0.45"><rect x="710.1" y="415.6" width="4.8" height="16.6" fill="none" stroke="#26A69A" stroke-width="1"/></g>
<g><rect x="718.1" y="414.8" width="4.8" height="1.3" fill="none" stroke="#26A69A" stroke-width="1"/></g>
<g><path d="M727.5 411.1V413.2" stroke="#26A69A" stroke-width="1" fill="none"/><rect x="725.1" y="413.7" width="4.8" height="4.3" fill="none" stroke="#26A69A" stroke-width="1"/></g>
<g><rect x="731.6" y="415.3" width="5.8" height="2.7" fill="#EF5350"/></g>
<g opacity="0.45"><rect x="739.1" y="423.0" width="4.8" height="1.7" fill="none" stroke="#EF5350" stroke-width="1"/></g>
<g><rect x="746.6" y="422.0" width="5.8" height="2.1" fill="#EF5350"/></g>
<g><rect x="753.6" y="422.8" width="5.8" height="1.3" fill="#26A69A"/></g>
<g><path d="M763.5 413.2V417.5" stroke="#26A69A" stroke-width="1" fill="none"/><rect x="761.1" y="418.0" width="4.8" height="2.1" fill="none" stroke="#26A69A" stroke-width="1"/></g>
<g><rect x="767.6" y="416.1" width="5.8" height="3.8" fill="#EF5350"/></g>
<g opacity="0.45"><rect x="775.6" y="415.9" width="5.8" height="2.1" fill="#26A69A"/></g>
<g><path d="M785.5 410.5V411.3" stroke="#26A69A" stroke-width="1" fill="none"/><rect x="783.1" y="411.8" width="4.8" height="1.4" fill="none" stroke="#26A69A" stroke-width="1"/></g>
<g><path d="M792.5 406.0V407.3" stroke="#26A69A" stroke-width="1" fill="none"/><rect x="789.6" y="407.3" width="5.8" height="2.2" fill="#26A69A"/></g>
<g opacity="0.45"><rect x="798.1" y="396.9" width="4.8" height="9.1" fill="none" stroke="#26A69A" stroke-width="1"/></g>
<g><path d="M807.5 392.4V394.0" stroke="#26A69A" stroke-width="1" fill="none"/><rect x="805.1" y="394.5" width="4.8" height="1.4" fill="none" stroke="#26A69A" stroke-width="1"/></g>
<g><rect x="811.6" y="391.3" width="5.8" height="2.2" fill="#26A69A"/></g>
<g><rect x="819.1" y="384.1" width="4.8" height="5.4" fill="none" stroke="#26A69A" stroke-width="1"/></g>
<g opacity="0.45"><rect x="826.6" y="384.0" width="5.8" height="1.2" fill="#EF5350"/></g>
<g><rect x="834.1" y="381.7" width="4.8" height="6.2" fill="none" stroke="#26A69A" stroke-width="1"/></g>
<g><rect x="841.1" y="380.9" width="4.8" height="1.7" fill="none" stroke="#26A69A" stroke-width="1"/></g>
<g><rect x="849.1" y="379.0" width="4.8" height="2.0" fill="none" stroke="#26A69A" stroke-width="1"/></g>
<g><rect x="856.1" y="371.8" width="4.8" height="4.1" fill="none" stroke="#26A69A" stroke-width="1"/></g>
<g><path d="M865.5 368.1V369.79999999999995" stroke="#26A69A" stroke-width="1" fill="none"/><rect x="862.6" y="369.8" width="5.8" height="1.2" fill="#26A69A"/></g>
<g><rect x="870.1" y="368.6" width="4.8" height="1.7" fill="none" stroke="#26A69A" stroke-width="1"/></g>
<g><rect x="877.6" y="372.0" width="5.8" height="2.4" fill="#EF5350"/></g>
<g opacity="0.45"><rect x="885.1" y="370.9" width="4.8" height="4.1" fill="none" stroke="#26A69A" stroke-width="1"/></g>
<g><path d="M894.5 369.3V370.4M894.5 372.5V373.6" stroke="#26A69A" stroke-width="1" fill="none"/><rect x="891.6" y="370.4" width="5.8" height="2.1" fill="#26A69A"/></g>
<g><rect x="899.1" y="370.4" width="4.8" height="1.6" fill="none" stroke="#26A69A" stroke-width="1"/></g>
<g><rect x="907.1" y="366.1" width="4.8" height="4.1" fill="none" stroke="#26A69A" stroke-width="1"/></g>
<g><rect x="914.1" y="366.1" width="4.8" height="1.7" fill="none" stroke="#26A69A" stroke-width="1"/></g>
<g><rect x="921.1" y="361.6" width="4.8" height="1.6" fill="none" stroke="#26A69A" stroke-width="1"/></g>
<g><rect x="929.1" y="344.8" width="4.8" height="13.1" fill="none" stroke="#26A69A" stroke-width="1"/></g>
<g><rect x="936.1" y="336.2" width="4.8" height="9.7" fill="none" stroke="#26A69A" stroke-width="1"/></g>
<g><path d="M945.5 344.5V347.2" stroke="#EF5350" stroke-width="1" fill="none"/><rect x="942.6" y="333.3" width="5.8" height="11.2" fill="#EF5350"/></g>
<g opacity="0.45"><path d="M952.5 330.4V334.9" stroke="#26A69A" stroke-width="1" fill="none"/><rect x="950.1" y="335.4" width="4.8" height="6.2" fill="none" stroke="#26A69A" stroke-width="1"/></g>
<g><path d="M960.5 327.2V331.2" stroke="#26A69A" stroke-width="1" fill="none"/><rect x="957.6" y="331.2" width="5.8" height="1.1" fill="#26A69A"/></g>
<g><path d="M967.5 320.0V328.3" stroke="#26A69A" stroke-width="1" fill="none"/><rect x="965.1" y="328.8" width="4.8" height="4.3" fill="none" stroke="#26A69A" stroke-width="1"/></g>
<g><rect x="971.6" y="331.7" width="5.8" height="1.2" fill="#EF5350"/></g>
<g opacity="0.45"><path d="M981.5 336.5V341.6" stroke="#26A69A" stroke-width="1" fill="none"/><rect x="979.1" y="329.3" width="4.8" height="6.7" fill="none" stroke="#26A69A" stroke-width="1"/></g>
<g opacity="0.45"><path d="M989.5 331.2V335.25" stroke="#EF5350" stroke-width="1" fill="none"/><rect x="986.6" y="335.2" width="5.8" height="1.2" fill="#EF5350"/></g>
<g><rect x="994.1" y="328.5" width="4.8" height="2.5" fill="none" stroke="#26A69A" stroke-width="1"/></g>
<g><path d="M1003.5 328.5V330.19999999999993M1003.5 331.4V332.3" stroke="#EF5350" stroke-width="1" fill="none"/><rect x="1000.6" y="330.2" width="5.8" height="1.2" fill="#EF5350"/></g>
<g><path d="M1011.5 334.9V336.8" stroke="#EF5350" stroke-width="1" fill="none"/><rect x="1008.6" y="332.3" width="5.8" height="2.6" fill="#EF5350"/></g>
<g><rect x="1016.1" y="322.9" width="4.8" height="17.9" fill="none" stroke="#26A69A" stroke-width="1"/></g>
<g><path d="M1025.5 314.1V315.7" stroke="#26A69A" stroke-width="1" fill="none"/><rect x="1023.1" y="316.2" width="4.8" height="5.4" fill="none" stroke="#26A69A" stroke-width="1"/></g>
<g><rect x="1029.6" y="311.2" width="5.8" height="3.7" fill="#26A69A"/></g>
<g><rect x="1038.1" y="298.9" width="4.8" height="17.9" fill="none" stroke="#26A69A" stroke-width="1"/></g>
<g opacity="0.45"><rect x="1045.1" y="293.8" width="4.8" height="6.8" fill="none" stroke="#26A69A" stroke-width="1"/></g>
<g><rect x="1052.1" y="285.8" width="4.8" height="9.4" fill="none" stroke="#26A69A" stroke-width="1"/></g>
<g><path d="M1061.5 278.9V280.3" stroke="#26A69A" stroke-width="1" fill="none"/><rect x="1059.1" y="280.8" width="4.8" height="2.2" fill="none" stroke="#26A69A" stroke-width="1"/></g>
<g opacity="0.45"><rect x="1067.1" y="275.2" width="4.8" height="12.6" fill="none" stroke="#26A69A" stroke-width="1"/></g>
<g opacity="0.45"><path d="M1076.5 263.2V268.75" stroke="#26A69A" stroke-width="1" fill="none"/><rect x="1073.6" y="268.8" width="5.8" height="1.2" fill="#26A69A"/></g>
<g><path d="M1083.5 265.3V268.5" stroke="#EF5350" stroke-width="1" fill="none"/><rect x="1080.6" y="268.5" width="5.8" height="2.2" fill="#EF5350"/></g>
<g><path d="M1091.5 263.5V264.8" stroke="#26A69A" stroke-width="1" fill="none"/><rect x="1088.6" y="261.6" width="5.8" height="1.9" fill="#26A69A"/></g>
<g><rect x="1096.1" y="259.7" width="4.8" height="3.5" fill="none" stroke="#26A69A" stroke-width="1"/></g>
<g><rect x="1102.6" y="266.4" width="5.8" height="8.5" fill="#EF5350"/></g>
<g><path d="M1112.5 276.5V277.6" stroke="#EF5350" stroke-width="1" fill="none"/><rect x="1109.6" y="271.5" width="5.8" height="5.0" fill="#EF5350"/></g>
<g><rect x="1117.6" y="274.1" width="5.8" height="9.6" fill="#EF5350"/></g>
<g><rect x="1124.6" y="280.3" width="5.8" height="5.3" fill="#EF5350"/></g>
<g><rect x="1132.1" y="276.2" width="4.8" height="3.6" fill="none" stroke="#26A69A" stroke-width="1"/></g>
<g><rect x="1139.1" y="271.2" width="4.8" height="4.8" fill="none" stroke="#26A69A" stroke-width="1"/></g>
<g opacity="0.45"><rect x="1147.1" y="249.0" width="4.8" height="18.5" fill="none" stroke="#26A69A" stroke-width="1"/></g>
<g opacity="0.45"><rect x="1154.1" y="235.2" width="4.8" height="12.0" fill="none" stroke="#26A69A" stroke-width="1"/></g>
<g><path d="M1163.5 221.3V224.5" stroke="#26A69A" stroke-width="1" fill="none"/><rect x="1161.1" y="225.0" width="4.8" height="5.1" fill="none" stroke="#26A69A" stroke-width="1"/></g>
<g><path d="M1171.5 230.4V235.2" stroke="#EF5350" stroke-width="1" fill="none"/><rect x="1168.6" y="227.7" width="5.8" height="2.7" fill="#EF5350"/></g>
<g opacity="0.45"><path d="M1178.5 217.1V222.4" stroke="#26A69A" stroke-width="1" fill="none"/><rect x="1176.1" y="222.9" width="4.8" height="3.8" fill="none" stroke="#26A69A" stroke-width="1"/></g>
<g opacity="0.45"><path d="M1192.5 360.8V361.4M1192.5 362.6V370.1" stroke="#EF5350" stroke-width="1" fill="none"/><rect x="1189.6" y="361.4" width="5.8" height="1.2" fill="#EF5350"/></g>
<g opacity="0.45"><rect x="1198.1" y="340.8" width="4.8" height="31.2" fill="none" stroke="#26A69A" stroke-width="1"/></g>
<g><path d="M1207.5 320.0V323.7M1207.5 336.8V342.9" stroke="#26A69A" stroke-width="1" fill="none"/><rect x="1204.6" y="323.7" width="5.8" height="13.1" fill="#26A69A"/></g>
<g><path d="M1214.5 350.7V361.6" stroke="#EF5350" stroke-width="1" fill="none"/><rect x="1211.6" y="348.0" width="5.8" height="2.7" fill="#EF5350"/></g>
<g><rect x="1218.6" y="348.0" width="5.8" height="26.4" fill="#EF5350"/></g>
<g><rect x="1226.6" y="370.7" width="5.8" height="26.9" fill="#EF5350"/></g>
<g><rect x="1234.1" y="392.0" width="4.8" height="21.1" fill="none" stroke="#26A69A" stroke-width="1"/></g>
<g><path d="M1243.5 387.5V392.8" stroke="#26A69A" stroke-width="1" fill="none"/><rect x="1240.6" y="377.1" width="5.8" height="10.4" fill="#26A69A"/></g>
<g><path d="M1251.5 381.3V383.5" stroke="#26A69A" stroke-width="1" fill="none"/><rect x="1249.1" y="384.0" width="4.8" height="9.9" fill="none" stroke="#26A69A" stroke-width="1"/></g>
<g><path d="M1258.5 392.0V396.8" stroke="#EF5350" stroke-width="1" fill="none"/><rect x="1255.6" y="396.8" width="5.8" height="10.7" fill="#EF5350"/></g>
<g><rect x="1262.6" y="414.1" width="5.8" height="12.6" fill="#EF5350"/></g>
<g><rect x="1269.6" y="419.2" width="5.8" height="7.5" fill="#26A69A"/></g>
<g><path d="M1280.5 426.9V435.7" stroke="#EF5350" stroke-width="1" fill="none"/><rect x="1277.6" y="435.7" width="5.8" height="1.3" fill="#EF5350"/></g>
<g opacity="0.45"><rect x="1285.1" y="432.0" width="4.8" height="4.6" fill="none" stroke="#26A69A" stroke-width="1"/></g>
<g><rect x="1291.6" y="432.3" width="5.8" height="11.7" fill="#EF5350"/></g>
<g><rect x="1299.1" y="445.8" width="4.8" height="2.2" fill="none" stroke="#EF5350" stroke-width="1"/></g>
<g><rect x="1306.6" y="439.5" width="5.8" height="2.1" fill="#26A69A"/></g>
<g><path d="M1316.5 427.2V431.5" stroke="#26A69A" stroke-width="1" fill="none"/><rect x="1314.1" y="432.0" width="4.8" height="4.8" fill="none" stroke="#26A69A" stroke-width="1"/></g>
<g><rect x="1320.6" y="429.1" width="5.8" height="14.9" fill="#EF5350"/></g>
<g><path d="M1331.5 437.6V444.0" stroke="#26A69A" stroke-width="1" fill="none"/><rect x="1329.1" y="444.5" width="4.8" height="1.4" fill="none" stroke="#26A69A" stroke-width="1"/></g>
<g><path d="M1338.5 440.5V441.3" stroke="#26A69A" stroke-width="1" fill="none"/><rect x="1336.1" y="441.8" width="4.8" height="4.1" fill="none" stroke="#26A69A" stroke-width="1"/></g>
<g opacity="0.45"><rect x="1343.1" y="412.0" width="4.8" height="24.6" fill="none" stroke="#26A69A" stroke-width="1"/></g>
<g opacity="0.45"><rect x="1350.1" y="416.5" width="4.8" height="13.9" fill="none" stroke="#EF5350" stroke-width="1"/></g>
<g><rect x="1358.1" y="414.9" width="4.8" height="4.1" fill="none" stroke="#26A69A" stroke-width="1"/></g>
<g><path d="M1367.5 433.6V440.0" stroke="#EF5350" stroke-width="1" fill="none"/><rect x="1364.6" y="428.0" width="5.8" height="5.6" fill="#EF5350"/></g>
<g opacity="0.45"><rect x="1372.1" y="423.7" width="4.8" height="5.1" fill="none" stroke="#26A69A" stroke-width="1"/></g>
<g><path d="M1382.5 420.3V421.6" stroke="#26A69A" stroke-width="1" fill="none"/><rect x="1380.1" y="418.1" width="4.8" height="1.7" fill="none" stroke="#26A69A" stroke-width="1"/></g>
<g opacity="0.45"><path d="M1389.5 388.0V389.3" stroke="#26A69A" stroke-width="1" fill="none"/><rect x="1387.1" y="389.8" width="4.8" height="12.9" fill="none" stroke="#26A69A" stroke-width="1"/></g>
<g><path d="M1396.5 389.6V399.79999999999995" stroke="#EF5350" stroke-width="1" fill="none"/><rect x="1393.6" y="399.8" width="5.8" height="1.2" fill="#EF5350"/></g>
<g><rect x="1400.6" y="414.1" width="5.8" height="25.6" fill="#EF5350"/></g>
<g opacity="0.45"><path d="M1411.5 410.9V419.2" stroke="#26A69A" stroke-width="1" fill="none"/><rect x="1409.1" y="419.7" width="4.8" height="16.9" fill="none" stroke="#26A69A" stroke-width="1"/></g>
<g><rect x="1416.1" y="426.9" width="4.8" height="5.1" fill="none" stroke="#EF5350" stroke-width="1"/></g>
<g><path d="M1425.5 418.4V420.3" stroke="#EF5350" stroke-width="1" fill="none"/><rect x="1422.6" y="420.3" width="5.8" height="10.6" fill="#EF5350"/></g>
<g><rect x="1429.6" y="429.1" width="5.8" height="23.7" fill="#EF5350"/></g>
<g><path d="M1440.5 440.3V445.6" stroke="#EF5350" stroke-width="1" fill="none"/><rect x="1437.6" y="445.6" width="5.8" height="26.4" fill="#EF5350"/></g>
<g><path d="M1447.5 440.0V454.1" stroke="#26A69A" stroke-width="1" fill="none"/><rect x="1444.6" y="454.1" width="5.8" height="7.5" fill="#26A69A"/></g>
<g><path d="M1454.5 459.5V463.5" stroke="#26A69A" stroke-width="1" fill="none"/><rect x="1452.1" y="454.9" width="4.8" height="4.1" fill="none" stroke="#26A69A" stroke-width="1"/></g>
<g><rect x="1459.6" y="453.3" width="5.8" height="4.8" fill="#EF5350"/></g>
<g><rect x="1466.6" y="459.5" width="5.8" height="33.6" fill="#EF5350"/></g>
<g opacity="0.45"><rect x="1474.1" y="428.8" width="4.8" height="68.0" fill="none" stroke="#26A69A" stroke-width="1"/></g>
<g opacity="0.45"><rect x="1481.1" y="412.0" width="4.8" height="10.7" fill="none" stroke="#26A69A" stroke-width="1"/></g>
<g opacity="0.45"><path d="M1491.5 387.2V400.3" stroke="#26A69A" stroke-width="1" fill="none"/><rect x="1489.1" y="400.8" width="4.8" height="13.1" fill="none" stroke="#26A69A" stroke-width="1"/></g>
<g><path d="M1498.5 436.0V440.0" stroke="#EF5350" stroke-width="1" fill="none"/><rect x="1495.6" y="428.0" width="5.8" height="8.0" fill="#EF5350"/></g>
<g><rect x="1502.6" y="416.0" width="5.8" height="33.3" fill="#EF5350"/></g>
<g><rect x="1509.6" y="446.1" width="5.8" height="56.6" fill="#EF5350"/></g>
<g><rect x="1517.6" y="498.1" width="5.8" height="22.7" fill="#EF5350"/></g>
<g opacity="0.45"><path d="M1527.5 516.5V524.5" stroke="#26A69A" stroke-width="1" fill="none"/><rect x="1524.6" y="514.4" width="5.8" height="2.1" fill="#26A69A"/></g>
<g><path d="M1534.5 512.8V520.0" stroke="#26A69A" stroke-width="1" fill="none"/><rect x="1531.6" y="510.1" width="5.8" height="2.7" fill="#26A69A"/></g>
<g><path d="M1542.5 511.5V529.1" stroke="#EF5350" stroke-width="1" fill="none"/><rect x="1539.6" y="529.1" width="5.8" height="7.7" fill="#EF5350"/></g>
<g><path d="M1549.5 516.8V530.4" stroke="#26A69A" stroke-width="1" fill="none"/><rect x="1547.1" y="530.9" width="4.8" height="3.3" fill="none" stroke="#26A69A" stroke-width="1"/></g>
<g><path d="M1556.5 568.8V570.7" stroke="#EF5350" stroke-width="1" fill="none"/><rect x="1553.6" y="538.9" width="5.8" height="29.9" fill="#EF5350"/></g>
<g><rect x="1560.6" y="564.3" width="5.8" height="26.9" fill="#EF5350"/></g>
<g><path d="M1571.5 588.3V590.4" stroke="#EF5350" stroke-width="1" fill="none"/><rect x="1568.6" y="590.4" width="5.8" height="8.0" fill="#EF5350"/></g>
<g opacity="0.45"><path d="M1578.5 601.3V603.5" stroke="#26A69A" stroke-width="1" fill="none"/><rect x="1576.1" y="594.1" width="4.8" height="6.7" fill="none" stroke="#26A69A" stroke-width="1"/></g>
<g><rect x="1582.6" y="599.2" width="5.8" height="8.3" fill="#EF5350"/></g>
<g><rect x="1589.6" y="608.5" width="5.8" height="13.1" fill="#EF5350"/></g>
<g><path d="M1600.5 625.3V628.8" stroke="#26A69A" stroke-width="1" fill="none"/><rect x="1598.1" y="617.0" width="4.8" height="7.8" fill="none" stroke="#26A69A" stroke-width="1"/></g>
<g><rect x="1604.6" y="619.2" width="5.8" height="20.0" fill="#EF5350"/></g>
<g><rect x="1612.1" y="638.1" width="4.8" height="3.8" fill="none" stroke="#26A69A" stroke-width="1"/></g>
<g><rect x="1619.6" y="654.9" width="5.8" height="7.8" fill="#EF5350"/></g>
<g><rect x="1626.6" y="659.2" width="5.8" height="18.4" fill="#EF5350"/></g>
<g><path d="M1636.5 671.2V680.0" stroke="#EF5350" stroke-width="1" fill="none"/><rect x="1633.6" y="680.0" width="5.8" height="5.6" fill="#EF5350"/></g>
<g><path d="M1643.5 697.6V701.9" stroke="#EF5350" stroke-width="1" fill="none"/><rect x="1640.6" y="694.1" width="5.8" height="3.5" fill="#EF5350"/></g>
<g><rect x="1648.6" y="695.2" width="5.8" height="22.4" fill="#EF5350"/></g>
<g opacity="0.45"><path d="M1658.5 717.0V718.7" stroke="#26A69A" stroke-width="1" fill="none"/><rect x="1655.6" y="715.8" width="5.8" height="1.2" fill="#26A69A"/></g>
<g opacity="0.45"><path d="M1665.5 695.7V703.5" stroke="#26A69A" stroke-width="1" fill="none"/><rect x="1663.1" y="704.0" width="4.8" height="10.4" fill="none" stroke="#26A69A" stroke-width="1"/></g>
<g><path d="M1672.5 684.0V697.3" stroke="#26A69A" stroke-width="1" fill="none"/><rect x="1669.6" y="697.3" width="5.8" height="1.3" fill="#26A69A"/></g>
<g><rect x="1677.6" y="687.2" width="5.8" height="3.5" fill="#26A69A"/></g>
<g opacity="0.45"><rect x="1685.1" y="678.9" width="4.8" height="16.3" fill="none" stroke="#26A69A" stroke-width="1"/></g>
<g><rect x="1691.6" y="680.3" width="5.8" height="5.8" fill="#EF5350"/></g>
<g opacity="0.45"><rect x="1700.1" y="676.0" width="4.8" height="5.9" fill="none" stroke="#26A69A" stroke-width="1"/></g>
<g><rect x="1706.6" y="681.1" width="5.8" height="23.4" fill="#EF5350"/></g>
<g><rect x="1713.6" y="706.1" width="5.8" height="10.4" fill="#EF5350"/></g>
<g><rect x="1720.6" y="712.0" width="5.8" height="1.3" fill="#26A69A"/></g>
<g><path d="M1731.5 712.0V716.0" stroke="#EF5350" stroke-width="1" fill="none"/><rect x="1728.6" y="716.0" width="5.8" height="12.0" fill="#EF5350"/></g>
<g><rect x="1735.6" y="723.5" width="5.8" height="17.6" fill="#EF5350"/></g>
<g><path d="M1745.5 733.3V734.4" stroke="#26A69A" stroke-width="1" fill="none"/><rect x="1743.1" y="734.9" width="4.8" height="4.1" fill="none" stroke="#26A69A" stroke-width="1"/></g>
<g opacity="0.45"><rect x="1750.1" y="726.1" width="4.8" height="8.3" fill="none" stroke="#26A69A" stroke-width="1"/></g>
<g><rect x="1757.6" y="723.5" width="5.8" height="9.6" fill="#EF5350"/></g>
<g><path d="M1767.5 741.9V746.7" stroke="#EF5350" stroke-width="1" fill="none"/><rect x="1764.6" y="738.4" width="5.8" height="3.5" fill="#EF5350"/></g>
<g><path d="M1774.5 729.6V732.3" stroke="#26A69A" stroke-width="1" fill="none"/><rect x="1771.6" y="732.3" width="5.8" height="7.2" fill="#26A69A"/></g>
<g><path d="M1782.5 733.3V735.2" stroke="#26A69A" stroke-width="1" fill="none"/><rect x="1779.6" y="735.2" width="5.8" height="1.6" fill="#26A69A"/></g>
<g opacity="0.45"><path d="M1789.5 735.2V736.5" stroke="#26A69A" stroke-width="1" fill="none"/><rect x="1787.1" y="737.0" width="4.8" height="11.3" fill="none" stroke="#26A69A" stroke-width="1"/></g>
<g><rect x="1794.1" y="729.3" width="4.8" height="2.7" fill="none" stroke="#26A69A" stroke-width="1"/></g>
<g><rect x="1800.6" y="736.8" width="5.8" height="32.8" fill="#EF5350"/></g>
<g><path d="M1811.5 761.9V765.6M1811.5 768.8V772.5" stroke="#26A69A" stroke-width="1" fill="none"/><rect x="1808.6" y="765.6" width="5.8" height="3.2" fill="#26A69A"/></g>
<g><rect x="1816.1" y="770.9" width="4.8" height="1.4" fill="none" stroke="#EF5350" stroke-width="1"/></g>
<g opacity="0.45"><path d="M1825.5 774.4V781.3" stroke="#EF5350" stroke-width="1" fill="none"/><rect x="1822.6" y="781.3" width="5.8" height="1.9" fill="#EF5350"/></g>
<g><rect x="1829.6" y="779.2" width="5.8" height="8.0" fill="#EF5350"/></g>
<g><path d="M1840.5 788.0V795.2" stroke="#EF5350" stroke-width="1" fill="none"/><rect x="1837.6" y="784.0" width="5.8" height="4.0" fill="#EF5350"/></g>
<g><path d="M1847.5 787.2V795.2" stroke="#EF5350" stroke-width="1" fill="none"/><rect x="1844.6" y="795.2" width="5.8" height="7.7" fill="#EF5350"/></g>
<g><rect x="1851.6" y="804.8" width="5.8" height="13.9" fill="#EF5350"/></g>
<g><path d="M1862.5 827.9V828.8" stroke="#EF5350" stroke-width="1" fill="none"/><rect x="1859.6" y="826.7" width="5.8" height="1.2" fill="#EF5350"/></g>
<g opacity="0.45"><rect x="1867.1" y="809.8" width="4.8" height="19.8" fill="none" stroke="#26A69A" stroke-width="1"/></g>
<g opacity="0.45"><rect x="1874.1" y="804.0" width="4.8" height="5.4" fill="none" stroke="#26A69A" stroke-width="1"/></g>
<g><rect x="1881.1" y="800.8" width="4.8" height="1.9" fill="none" stroke="#26A69A" stroke-width="1"/></g>
<g><rect x="1888.6" y="799.2" width="5.8" height="5.6" fill="#EF5350"/></g>
<g><rect x="1895.6" y="813.1" width="5.8" height="1.3" fill="#EF5350"/></g>
<g><rect x="1902.6" y="810.1" width="5.8" height="3.5" fill="#26A69A"/></g>
<g><path d="M1913.5 817.6V821.6" stroke="#EF5350" stroke-width="1" fill="none"/><rect x="1911.1" y="814.9" width="4.8" height="2.2" fill="none" stroke="#EF5350" stroke-width="1"/></g>
<g><path d="M1920.5 804.3V812.6" stroke="#26A69A" stroke-width="1" fill="none"/><rect x="1917.6" y="812.6" width="5.8" height="1.2" fill="#26A69A"/></g>
<g><rect x="1924.6" y="816.8" width="5.8" height="8.3" fill="#EF5350"/></g>
<g><rect x="1931.6" y="825.7" width="5.8" height="1.2" fill="#EF5350"/></g>
<g><rect x="1940.1" y="825.8" width="4.8" height="4.6" fill="none" stroke="#26A69A" stroke-width="1"/></g>
<g><rect x="1946.6" y="827.2" width="5.8" height="21.3" fill="#EF5350"/></g>
<g><rect x="1953.6" y="849.1" width="5.8" height="6.4" fill="#EF5350"/></g>
<g opacity="0.45"><path d="M1963.5 842.1V843.7" stroke="#26A69A" stroke-width="1" fill="none"/><rect x="1961.1" y="844.2" width="4.8" height="4.6" fill="none" stroke="#26A69A" stroke-width="1"/></g>
<g><rect x="1968.6" y="844.8" width="5.8" height="6.1" fill="#EF5350"/></g>
<g><path d="M1978.5 844.5V848.6" stroke="#26A69A" stroke-width="1" fill="none"/><rect x="1975.6" y="848.6" width="5.8" height="1.2" fill="#26A69A"/></g>
<g><rect x="1982.6" y="853.3" width="5.8" height="7.5" fill="#EF5350"/></g>
<g opacity="0.45"><rect x="1991.1" y="861.8" width="4.8" height="2.5" fill="none" stroke="#EF5350" stroke-width="1"/></g>
<g><path d="M2000.5 877.9V883.2" stroke="#EF5350" stroke-width="1" fill="none"/><rect x="1997.6" y="864.8" width="5.8" height="13.1" fill="#EF5350"/></g>
<g><path d="M2007.5 879.7V884.8" stroke="#EF5350" stroke-width="1" fill="none"/><rect x="2004.6" y="878.7" width="5.8" height="1.0" fill="#EF5350"/></g>
<g><path d="M2014.5 881.3V885.9" stroke="#EF5350" stroke-width="1" fill="none"/><rect x="2011.6" y="885.9" width="5.8" height="1.0" fill="#EF5350"/></g>
<g><rect x="2020.1" y="894.9" width="4.8" height="6.2" fill="none" stroke="#EF5350" stroke-width="1"/></g>
<g opacity="0.45"><rect x="2026.6" y="895.7" width="5.8" height="1.2" fill="#EF5350"/></g>
<g><rect x="2033.6" y="892.5" width="5.8" height="2.2" fill="#26A69A"/></g>
<g opacity="0.45"><path d="M2043.5 892.0V898.9" stroke="#26A69A" stroke-width="1" fill="none"/><rect x="2041.1" y="875.7" width="4.8" height="15.8" fill="none" stroke="#26A69A" stroke-width="1"/></g>
<g><path d="M2051.5 840.0V844.8" stroke="#26A69A" stroke-width="1" fill="none"/><rect x="2049.1" y="845.3" width="4.8" height="16.6" fill="none" stroke="#26A69A" stroke-width="1"/></g>
<g opacity="0.45"><rect x="2056.1" y="849.8" width="4.8" height="5.2" fill="none" stroke="#EF5350" stroke-width="1"/></g>
<g opacity="0.45"><rect x="2063.1" y="828.0" width="4.8" height="23.2" fill="none" stroke="#26A69A" stroke-width="1"/></g>
<g><rect x="2071.1" y="814.9" width="4.8" height="7.0" fill="none" stroke="#26A69A" stroke-width="1"/></g>
<g><path d="M2080.5 809.9V813.3" stroke="#EF5350" stroke-width="1" fill="none"/><rect x="2077.6" y="813.3" width="5.8" height="2.7" fill="#EF5350"/></g>
<g><rect x="2085.1" y="814.9" width="4.8" height="2.2" fill="none" stroke="#26A69A" stroke-width="1"/></g>
<g opacity="0.45"><path d="M2094.5 844.0V848.5" stroke="#EF5350" stroke-width="1" fill="none"/><rect x="2092.1" y="836.8" width="4.8" height="6.7" fill="none" stroke="#EF5350" stroke-width="1"/></g>
<g><rect x="2100.1" y="832.0" width="4.8" height="1.9" fill="none" stroke="#26A69A" stroke-width="1"/></g>
<g><rect x="2106.6" y="833.1" width="5.8" height="10.1" fill="#EF5350"/></g>
<g><path d="M2116.5 834.1V842.4" stroke="#26A69A" stroke-width="1" fill="none"/><rect x="2114.1" y="842.9" width="4.8" height="4.1" fill="none" stroke="#26A69A" stroke-width="1"/></g>
<g><rect x="2120.6" y="844.0" width="5.8" height="13.1" fill="#EF5350"/></g>
<g><rect x="2128.6" y="857.6" width="5.8" height="3.2" fill="#EF5350"/></g>
<g><path d="M2138.5 860.3V863.8" stroke="#EF5350" stroke-width="1" fill="none"/><rect x="2135.6" y="863.8" width="5.8" height="1.2" fill="#EF5350"/></g>
<g><rect x="2142.6" y="856.0" width="5.8" height="8.8" fill="#EF5350"/></g>
<g><rect x="2150.6" y="864.0" width="5.8" height="11.5" fill="#EF5350"/></g>
<g><rect x="2157.6" y="882.9" width="5.8" height="12.0" fill="#EF5350"/></g>
<g><rect x="1182.6" y="135.9" width="5.8" height="1.2" fill="#26A69A"/></g>
</g>
<path d="M1261.8 230.8C1250 242 1240 250 1233.2 254.8S1214 266.5 1207.3 269.9" stroke="#F03245" stroke-width="5.6" fill="none" stroke-linecap="round" stroke-linejoin="round"/>
<path d="M1213.5 236.1C1212 243 1209 247 1207.3 250.5C1205 256 1203.8 263 1207.3 269.9" stroke="#F03245" stroke-width="5.6" fill="none" stroke-linecap="round" stroke-linejoin="round"/>
<path d="M1207.3 269.9C1216 273 1228 275 1243.5 277.2" stroke="#F03245" stroke-width="5.6" fill="none" stroke-linecap="round" stroke-linejoin="round"/>
<path d="M1505.5 756V795.1" stroke="#F03245" stroke-width="5.6" fill="none" stroke-linecap="round" stroke-linejoin="round"/>
<path d="M1571.2 741.7C1550 745 1530 747.3 1512.3 749.8" stroke="#F03245" stroke-width="5.6" fill="none" stroke-linecap="round" stroke-linejoin="round"/>
<path d="M1512.3 749.8C1520 753 1530 758 1539.6 767.2S1558 783.5 1568.1 794.4" stroke="#F03245" stroke-width="5.6" fill="none" stroke-linecap="round" stroke-linejoin="round"/>
<text x="1219.8" y="217.0" font-size="30.4" textLength="217.8" lengthAdjust="spacing" fill="#000" stroke="#000" stroke-width="0.22" xml:space="preserve" font-weight="700">Fed Statement</text>
<text x="1517.8" y="834.7" font-size="30.4" textLength="262.4" lengthAdjust="spacing" fill="#000" stroke="#000" stroke-width="0.22" xml:space="preserve" font-weight="700">Press Conference</text>
<text x="31.4" y="95.9" font-size="19.2" textLength="82.8" lengthAdjust="spacing" fill="#131722" stroke="#131722" stroke-width="0.22" xml:space="preserve" >6,904.00</text>
<text x="31.4" y="143.9" font-size="19.2" textLength="82.8" lengthAdjust="spacing" fill="#131722" stroke="#131722" stroke-width="0.22" xml:space="preserve" >6,900.00</text>
<text x="31.4" y="192.0" font-size="19.2" textLength="82.8" lengthAdjust="spacing" fill="#131722" stroke="#131722" stroke-width="0.22" xml:space="preserve" >6,896.00</text>
<text x="31.4" y="240.1" font-size="19.2" textLength="82.8" lengthAdjust="spacing" fill="#131722" stroke="#131722" stroke-width="0.22" xml:space="preserve" >6,892.00</text>
<text x="31.4" y="288.1" font-size="19.2" textLength="82.8" lengthAdjust="spacing" fill="#131722" stroke="#131722" stroke-width="0.22" xml:space="preserve" >6,888.00</text>
<text x="31.4" y="336.2" font-size="19.2" textLength="82.8" lengthAdjust="spacing" fill="#131722" stroke="#131722" stroke-width="0.22" xml:space="preserve" >6,884.00</text>
<text x="31.4" y="384.2" font-size="19.2" textLength="82.8" lengthAdjust="spacing" fill="#131722" stroke="#131722" stroke-width="0.22" xml:space="preserve" >6,880.00</text>
<text x="31.4" y="432.3" font-size="19.2" textLength="82.8" lengthAdjust="spacing" fill="#131722" stroke="#131722" stroke-width="0.22" xml:space="preserve" >6,876.00</text>
<text x="31.4" y="480.4" font-size="19.2" textLength="82.8" lengthAdjust="spacing" fill="#131722" stroke="#131722" stroke-width="0.22" xml:space="preserve" >6,872.00</text>
<text x="31.4" y="528.4" font-size="19.2" textLength="82.8" lengthAdjust="spacing" fill="#131722" stroke="#131722" stroke-width="0.22" xml:space="preserve" >6,868.00</text>
<text x="31.4" y="576.5" font-size="19.2" textLength="82.8" lengthAdjust="spacing" fill="#131722" stroke="#131722" stroke-width="0.22" xml:space="preserve" >6,864.00</text>
<text x="31.4" y="624.5" font-size="19.2" textLength="82.8" lengthAdjust="spacing" fill="#131722" stroke="#131722" stroke-width="0.22" xml:space="preserve" >6,860.00</text>
<text x="31.4" y="672.6" font-size="19.2" textLength="82.8" lengthAdjust="spacing" fill="#131722" stroke="#131722" stroke-width="0.22" xml:space="preserve" >6,856.00</text>
<text x="31.4" y="720.7" font-size="19.2" textLength="82.8" lengthAdjust="spacing" fill="#131722" stroke="#131722" stroke-width="0.22" xml:space="preserve" >6,852.00</text>
<text x="31.4" y="768.7" font-size="19.2" textLength="82.8" lengthAdjust="spacing" fill="#131722" stroke="#131722" stroke-width="0.22" xml:space="preserve" >6,848.00</text>
<text x="31.4" y="816.8" font-size="19.2" textLength="82.8" lengthAdjust="spacing" fill="#131722" stroke="#131722" stroke-width="0.22" xml:space="preserve" >6,844.00</text>
<text x="31.4" y="864.8" font-size="19.2" textLength="82.8" lengthAdjust="spacing" fill="#131722" stroke="#131722" stroke-width="0.22" xml:space="preserve" >6,840.00</text>
<text x="31.4" y="912.9" font-size="19.2" textLength="82.8" lengthAdjust="spacing" fill="#131722" stroke="#131722" stroke-width="0.22" xml:space="preserve" >6,836.00</text>
<text x="31.4" y="961.0" font-size="19.2" textLength="82.8" lengthAdjust="spacing" fill="#131722" stroke="#131722" stroke-width="0.22" xml:space="preserve" >6,832.00</text>
<g clip-path="url(#cpRAx)">
<text x="2417.7" y="110.2" font-size="19.2" textLength="52.4" lengthAdjust="spacing" fill="#131722" stroke="#131722" stroke-width="0.22" xml:space="preserve" >19.00</text>
<text x="2417.7" y="164.6" font-size="19.2" textLength="52.4" lengthAdjust="spacing" fill="#131722" stroke="#131722" stroke-width="0.22" xml:space="preserve" >18.50</text>
<text x="2417.7" y="218.9" font-size="19.2" textLength="52.4" lengthAdjust="spacing" fill="#131722" stroke="#131722" stroke-width="0.22" xml:space="preserve" >18.00</text>
<text x="2417.7" y="273.3" font-size="19.2" textLength="52.4" lengthAdjust="spacing" fill="#131722" stroke="#131722" stroke-width="0.22" xml:space="preserve" >17.50</text>
<text x="2417.7" y="327.7" font-size="19.2" textLength="52.4" lengthAdjust="spacing" fill="#131722" stroke="#131722" stroke-width="0.22" xml:space="preserve" >17.00</text>
<text x="2417.7" y="382.1" font-size="19.2" textLength="52.4" lengthAdjust="spacing" fill="#131722" stroke="#131722" stroke-width="0.22" xml:space="preserve" >16.50</text>
<text x="2417.7" y="436.4" font-size="19.2" textLength="52.4" lengthAdjust="spacing" fill="#131722" stroke="#131722" stroke-width="0.22" xml:space="preserve" >16.00</text>
<text x="2417.7" y="490.8" font-size="19.2" textLength="52.4" lengthAdjust="spacing" fill="#131722" stroke="#131722" stroke-width="0.22" xml:space="preserve" >15.50</text>
<text x="2417.7" y="545.2" font-size="19.2" textLength="52.4" lengthAdjust="spacing" fill="#131722" stroke="#131722" stroke-width="0.22" xml:space="preserve" >15.00</text>
<text x="2417.7" y="599.6" font-size="19.2" textLength="52.4" lengthAdjust="spacing" fill="#131722" stroke="#131722" stroke-width="0.22" xml:space="preserve" >14.50</text>
<text x="2417.7" y="654.0" font-size="19.2" textLength="52.4" lengthAdjust="spacing" fill="#131722" stroke="#131722" stroke-width="0.22" xml:space="preserve" >14.00</text>
<text x="2417.7" y="708.3" font-size="19.2" textLength="52.4" lengthAdjust="spacing" fill="#131722" stroke="#131722" stroke-width="0.22" xml:space="preserve" >13.50</text>
<text x="2417.7" y="762.7" font-size="19.2" textLength="52.4" lengthAdjust="spacing" fill="#131722" stroke="#131722" stroke-width="0.22" xml:space="preserve" >13.00</text>
<text x="2417.7" y="817.1" font-size="19.2" textLength="52.4" lengthAdjust="spacing" fill="#131722" stroke="#131722" stroke-width="0.22" xml:space="preserve" >12.50</text>
<text x="2417.7" y="871.5" font-size="19.2" textLength="52.4" lengthAdjust="spacing" fill="#131722" stroke="#131722" stroke-width="0.22" xml:space="preserve" >12.00</text>
<text x="2417.7" y="925.8" font-size="19.2" textLength="52.4" lengthAdjust="spacing" fill="#131722" stroke="#131722" stroke-width="0.22" xml:space="preserve" >11.50</text>
<text x="2417.7" y="980.2" font-size="19.2" textLength="52.4" lengthAdjust="spacing" fill="#131722" stroke="#131722" stroke-width="0.22" xml:space="preserve" >11.00</text>
</g>
<text x="2417.7" y="1041.0" font-size="19.2" textLength="52.4" lengthAdjust="spacing" fill="#131722" stroke="#131722" stroke-width="0.22" xml:space="preserve" >80.00</text>
<text x="2417.7" y="1101.0" font-size="19.2" textLength="52.4" lengthAdjust="spacing" fill="#131722" stroke="#131722" stroke-width="0.22" xml:space="preserve" >60.00</text>
<text x="2417.7" y="1160.8" font-size="19.2" textLength="52.4" lengthAdjust="spacing" fill="#131722" stroke="#131722" stroke-width="0.22" xml:space="preserve" >40.00</text>
<text x="2417.7" y="1220.3" font-size="19.2" textLength="52.4" lengthAdjust="spacing" fill="#131722" stroke="#131722" stroke-width="0.22" xml:space="preserve" >20.00</text>
<path d="M27.5 285H128.0V311.5H27.5Q24.9 311.5 24.9 309V287.5Q24.9 285 27.5 285Z" fill="#2B74F2"/>
<text x="31.4" y="305.1" font-size="19.2" textLength="82.8" lengthAdjust="spacing" fill="#fff" stroke="#fff" stroke-width="0.22" xml:space="preserve" >6,886.69</text>
<path d="M2403.8 881H2475Q2478.2 881 2478.2 884V904.6Q2478.2 907.6 2475 907.6H2403.8Z" fill="#EF5350"/>
<text x="2417.7" y="901.0" font-size="19.2" textLength="52.4" lengthAdjust="spacing" fill="#fff" stroke="#fff" stroke-width="0.22" xml:space="preserve" >11.73</text>
<path d="M2403.8 1169H2474.5Q2477.7 1169 2477.7 1172V1192Q2477.7 1195 2474.5 1195H2403.8Z" fill="#7E57C2"/>
<text x="2417.7" y="1188.8" font-size="19.2" textLength="52.4" lengthAdjust="spacing" fill="#fff" stroke="#fff" stroke-width="0.22" xml:space="preserve" >30.53</text>
<rect x="22" y="49" width="101.5" height="45.6" fill="#fff"/>
<rect x="22.5" y="49.5" width="100.5" height="38.5" rx="6" fill="#fff" stroke="#f0f1f4" stroke-width="1.2"/>
<text x="35.8" y="74.6" font-size="19.2" textLength="39.8" lengthAdjust="spacing" fill="#131722" stroke="#131722" stroke-width="0.22" xml:space="preserve" >USD</text>
<rect x="2409.5" y="49.5" width="70" height="38.5" rx="6" fill="#fff" stroke="#f0f1f4" stroke-width="1.2"/>
<text x="2422.3" y="73.8" font-size="19.2" textLength="46.3" lengthAdjust="spacing" fill="#131722" stroke="#131722" stroke-width="0.22" xml:space="preserve" >point</text>
<text x="139.9" y="74.2" font-size="19.2" textLength="331.1" lengthAdjust="spacing" fill="#131722" stroke="#131722" stroke-width="0.22" xml:space="preserve" >Cboe 1-Day Volatility Index · 1 · CBOE</text>
<text x="481.7" y="74.2" font-size="19.2" textLength="14.3" lengthAdjust="spacing" fill="#131722" stroke="#131722" stroke-width="0.22" xml:space="preserve" >O</text>
<text x="495.8" y="74.2" font-size="19.2" textLength="46.0" lengthAdjust="spacing" fill="#F23645" stroke="#F23645" stroke-width="0.22" xml:space="preserve" >11.83</text>
<text x="552.0" y="74.2" font-size="19.2" textLength="14.3" lengthAdjust="spacing" fill="#131722" stroke="#131722" stroke-width="0.22" xml:space="preserve" >H</text>
<text x="565.4" y="74.2" font-size="19.2" textLength="46.4" lengthAdjust="spacing" fill="#F23645" stroke="#F23645" stroke-width="0.22" xml:space="preserve" >11.83</text>
<text x="622.6" y="74.2" font-size="19.2" textLength="10.4" lengthAdjust="spacing" fill="#131722" stroke="#131722" stroke-width="0.22" xml:space="preserve" >L</text>
<text x="632.2" y="74.2" font-size="19.2" textLength="45.4" lengthAdjust="spacing" fill="#F23645" stroke="#F23645" stroke-width="0.22" xml:space="preserve" >11.73</text>
<text x="687.8" y="74.2" font-size="19.2" textLength="13.6" lengthAdjust="spacing" fill="#131722" stroke="#131722" stroke-width="0.22" xml:space="preserve" >C</text>
<text x="700.9" y="74.2" font-size="19.2" textLength="44.7" lengthAdjust="spacing" fill="#F23645" stroke="#F23645" stroke-width="0.22" xml:space="preserve" >11.73</text>
<text x="756.4" y="74.2" font-size="19.2" textLength="132.6" lengthAdjust="spacing" fill="#F23645" stroke="#F23645" stroke-width="0.22" xml:space="preserve" >−0.17 (−1.43%)</text>
<text x="139.9" y="101.0" font-size="19.2" textLength="114.1" lengthAdjust="spacing" fill="#131722" stroke="#131722" stroke-width="0.22" xml:space="preserve" >SPX · SPCFD</text>
<text x="264.9" y="101.0" font-size="19.2" textLength="80.4" lengthAdjust="spacing" fill="#2A6FF0" stroke="#2A6FF0" stroke-width="0.22" xml:space="preserve" >6,886.69</text>
<text x="356.0" y="101.0" font-size="19.2" textLength="139.3" lengthAdjust="spacing" fill="#2A6FF0" stroke="#2A6FF0" stroke-width="0.22" xml:space="preserve" >−0.03 (−0.00%)</text>
<text x="140.3" y="1009.8" font-size="19.2" textLength="126.1" lengthAdjust="spacing" fill="#131722" stroke="#131722" stroke-width="0.22" xml:space="preserve" >RSI (14, close)</text>
<text x="277.6" y="1009.8" font-size="19.2" textLength="51.7" lengthAdjust="spacing" fill="#7E57C2" stroke="#7E57C2" stroke-width="0.22" xml:space="preserve" >30.53</text>
<g clip-path="url(#cpTime)">
<text x="176.8" y="1275.0" font-size="19.2" textLength="52.8" lengthAdjust="spacing" fill="#131722" stroke="#131722" stroke-width="0.22" xml:space="preserve" >11:45</text>
<text x="285.9" y="1275.0" font-size="19.2" textLength="52.8" lengthAdjust="spacing" fill="#131722" stroke="#131722" stroke-width="0.22" xml:space="preserve" >12:00</text>
<text x="395.0" y="1275.0" font-size="19.2" textLength="52.8" lengthAdjust="spacing" fill="#131722" stroke="#131722" stroke-width="0.22" xml:space="preserve" >12:15</text>
<text x="504.1" y="1275.0" font-size="19.2" textLength="52.8" lengthAdjust="spacing" fill="#131722" stroke="#131722" stroke-width="0.22" xml:space="preserve" >12:30</text>
<text x="613.2" y="1275.0" font-size="19.2" textLength="52.8" lengthAdjust="spacing" fill="#131722" stroke="#131722" stroke-width="0.22" xml:space="preserve" >12:45</text>
<text x="722.3" y="1275.0" font-size="19.2" textLength="52.8" lengthAdjust="spacing" fill="#131722" stroke="#131722" stroke-width="0.22" xml:space="preserve" >13:00</text>
<text x="831.4" y="1275.0" font-size="19.2" textLength="52.8" lengthAdjust="spacing" fill="#131722" stroke="#131722" stroke-width="0.22" xml:space="preserve" >13:15</text>
<text x="940.5" y="1275.0" font-size="19.2" textLength="52.8" lengthAdjust="spacing" fill="#131722" stroke="#131722" stroke-width="0.22" xml:space="preserve" >13:30</text>
<text x="1049.6" y="1275.0" font-size="19.2" textLength="52.8" lengthAdjust="spacing" fill="#131722" stroke="#131722" stroke-width="0.22" xml:space="preserve" >13:45</text>
<text x="1158.8" y="1275.0" font-size="19.2" textLength="52.8" lengthAdjust="spacing" fill="#131722" stroke="#131722" stroke-width="0.22" xml:space="preserve" >14:00</text>
<text x="1267.9" y="1275.0" font-size="19.2" textLength="52.8" lengthAdjust="spacing" fill="#131722" stroke="#131722" stroke-width="0.22" xml:space="preserve" >14:15</text>
<text x="1377.0" y="1275.0" font-size="19.2" textLength="52.8" lengthAdjust="spacing" fill="#131722" stroke="#131722" stroke-width="0.22" xml:space="preserve" >14:30</text>
<text x="1486.1" y="1275.0" font-size="19.2" textLength="52.8" lengthAdjust="spacing" fill="#131722" stroke="#131722" stroke-width="0.22" xml:space="preserve" >14:45</text>
<text x="1595.2" y="1275.0" font-size="19.2" textLength="52.8" lengthAdjust="spacing" fill="#131722" stroke="#131722" stroke-width="0.22" xml:space="preserve" >15:00</text>
<text x="1704.3" y="1275.0" font-size="19.2" textLength="52.8" lengthAdjust="spacing" fill="#131722" stroke="#131722" stroke-width="0.22" xml:space="preserve" >15:15</text>
<text x="1813.4" y="1275.0" font-size="19.2" textLength="52.8" lengthAdjust="spacing" fill="#131722" stroke="#131722" stroke-width="0.22" xml:space="preserve" >15:30</text>
<text x="1922.5" y="1275.0" font-size="19.2" textLength="52.8" lengthAdjust="spacing" fill="#131722" stroke="#131722" stroke-width="0.22" xml:space="preserve" >15:45</text>
<text x="2031.6" y="1275.0" font-size="19.2" textLength="52.8" lengthAdjust="spacing" fill="#131722" stroke="#131722" stroke-width="0.22" xml:space="preserve" >16:00</text>
<text x="2157.0" y="1275.0" font-size="19.2" textLength="23.2" lengthAdjust="spacing" fill="#131722" stroke="#131722" stroke-width="0.22" xml:space="preserve" font-weight="700">11</text>
<text x="2250.8" y="1275.0" font-size="19.2" textLength="52.8" lengthAdjust="spacing" fill="#131722" stroke="#131722" stroke-width="0.22" xml:space="preserve" >09:45</text>
<text x="2359.9" y="1275.0" font-size="19.2" textLength="52.8" lengthAdjust="spacing" fill="#131722" stroke="#131722" stroke-width="0.22" xml:space="preserve" >10:00</text>
</g>
<path d="M1065.1 1245.4H1304.0V1279Q1304.0 1282.2 1300.8 1282.2H1068.3Q1065.1 1282.2 1065.1 1279Z" fill="#F23645"/>
<text x="1079.2" y="1274.3" font-size="19.2" textLength="212.3" lengthAdjust="spacing" fill="#fff" stroke="#fff" stroke-width="0.22" xml:space="preserve" >Wed 10 Dec '25   14:00</text>
<path d="M1371.3 1245.4H1609.9V1279Q1609.9 1282.2 1606.7 1282.2H1374.5Q1371.3 1282.2 1371.3 1279Z" fill="#F23645"/>
<text x="1385.4" y="1274.3" font-size="19.2" textLength="212.3" lengthAdjust="spacing" fill="#fff" stroke="#fff" stroke-width="0.22" xml:space="preserve" >Wed 10 Dec '25   14:42</text>
<circle cx="72.5" cy="1267" r="14.8" fill="#f2f2f2"/>
<text x="72.5" y="1273.2" font-size="17" text-anchor="middle" fill="#4a4a4a">Z</text>
<circle cx="2444" cy="1267" r="14.8" fill="#f2f2f2"/>
<text x="2444" y="1273.2" font-size="17" text-anchor="middle" fill="#4a4a4a">A</text>
<text x="15.6" y="32.0" font-size="19.4" textLength="586.6" lengthAdjust="spacing" fill="#e4e4e4" xml:space="preserve" stroke="#e4e4e4" stroke-width="0.35">Jay1104 created with TradingView.com, Dec 10, 2025 17:41 UTC-5</text>
<path d="M18.2 1323.4H38.2V1346.8H28.2V1332.8H18.2Z" fill="#dcdcdc"/>
<circle cx="45.6" cy="1328.3" r="5" fill="#dcdcdc"/>
<path d="M54 1323.4H65.8L57 1346.8H45.4Z" fill="#dcdcdc"/>
<text x="76.0" y="1346.8" font-size="33" textLength="191.9" lengthAdjust="spacing" fill="#dcdcdc" stroke="#dcdcdc" stroke-width="0.22" xml:space="preserve" font-weight="700">TradingView</text>
</svg>
</body></html>
